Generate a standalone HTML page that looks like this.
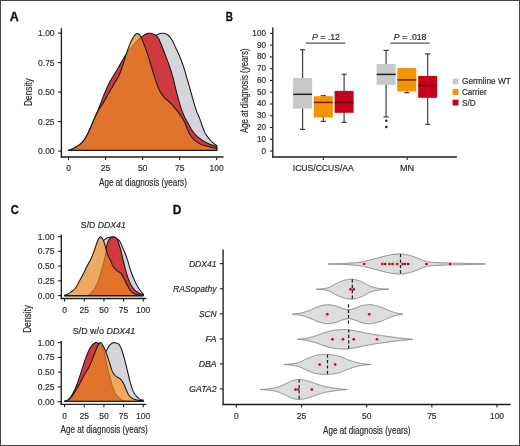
<!DOCTYPE html>
<html><head><meta charset="utf-8"><style>
html,body{margin:0;padding:0;background:#fff;}
#f{position:relative;width:520px;height:446px;box-sizing:border-box;border:1px solid #464646;overflow:hidden;background:#fff;}
svg{position:absolute;left:-1px;top:-1px;will-change:transform;}
text{font-family:"Liberation Sans",sans-serif;} text.n{stroke:#2e2e2e;stroke-width:0.2px;}
</style></head><body><div id="f">
<svg width="520" height="446" viewBox="0 0 520 446">
<text x="9.8" y="20.6" font-size="12" textLength="9.0" lengthAdjust="spacingAndGlyphs" font-weight="bold" fill="#111" stroke="#111" stroke-width="0.3">A</text>
<text x="225.7" y="20.6" font-size="12" textLength="7.2" lengthAdjust="spacingAndGlyphs" font-weight="bold" fill="#111" stroke="#111" stroke-width="0.3">B</text>
<text x="10.7" y="213.6" font-size="12" textLength="8.0" lengthAdjust="spacingAndGlyphs" font-weight="bold" fill="#111" stroke="#111" stroke-width="0.3">C</text>
<text x="172.8" y="213.6" font-size="12" textLength="8.6" lengthAdjust="spacingAndGlyphs" font-weight="bold" fill="#111" stroke="#111" stroke-width="0.3">D</text>
<path d="M68.5,150.4 L68.5,150.4 L69.24,150.33 L69.98,150.22 L70.72,150.09 L71.46,149.93 L72.2,149.76 L72.95,149.56 L73.69,149.35 L74.43,149.12 L75.17,148.89 L75.91,148.64 L76.65,148.38 L77.39,148.07 L78.13,147.73 L78.87,147.36 L79.61,146.96 L80.36,146.52 L81.1,146.06 L81.84,145.58 L82.58,145.07 L83.32,144.54 L84.06,143.98 L84.8,143.36 L85.54,142.71 L86.28,142 L87.03,141.26 L87.77,140.48 L88.51,139.66 L89.25,138.81 L89.99,137.93 L90.73,137.02 L91.47,136.08 L92.21,135.13 L92.95,134.15 L93.69,133.15 L94.44,132.14 L95.18,131.12 L95.92,130.09 L96.66,129.05 L97.4,128.01 L98.14,126.96 L98.88,125.89 L99.62,124.78 L100.36,123.62 L101.1,122.43 L101.84,121.2 L102.59,119.94 L103.33,118.66 L104.07,117.35 L104.81,116.02 L105.55,114.68 L106.29,113.32 L107.03,111.96 L107.77,110.59 L108.51,109.22 L109.25,107.85 L110,106.49 L110.74,105.14 L111.48,103.8 L112.22,102.48 L112.96,101.18 L113.7,99.88 L114.44,98.59 L115.18,97.28 L115.92,95.98 L116.66,94.67 L117.41,93.36 L118.15,92.05 L118.89,90.74 L119.63,89.44 L120.37,88.13 L121.11,86.83 L121.85,85.53 L122.59,84.23 L123.33,82.95 L124.08,81.67 L124.82,80.39 L125.56,79.13 L126.3,77.87 L127.04,76.63 L127.78,75.39 L128.52,74.17 L129.26,72.95 L130,71.73 L130.74,70.52 L131.49,69.31 L132.23,68.11 L132.97,66.91 L133.71,65.72 L134.45,64.54 L135.19,63.36 L135.93,62.19 L136.67,61.02 L137.41,59.87 L138.15,58.71 L138.89,57.57 L139.64,56.43 L140.38,55.3 L141.12,54.18 L141.86,53.06 L142.6,51.95 L143.34,50.84 L144.08,49.71 L144.82,48.59 L145.56,47.47 L146.31,46.36 L147.05,45.28 L147.79,44.24 L148.53,43.24 L149.27,42.29 L150.01,41.4 L150.75,40.54 L151.49,39.67 L152.23,38.81 L152.97,37.98 L153.72,37.2 L154.46,36.48 L155.2,35.86 L155.94,35.35 L156.68,34.96 L157.42,34.64 L158.16,34.34 L158.9,34.06 L159.64,33.81 L160.38,33.59 L161.12,33.41 L161.87,33.28 L162.61,33.21 L163.35,33.21 L164.09,33.31 L164.83,33.51 L165.57,33.8 L166.31,34.14 L167.05,34.52 L167.79,34.93 L168.53,35.49 L169.28,36.24 L170.02,37.13 L170.76,38.13 L171.5,39.19 L172.24,40.37 L172.98,41.79 L173.72,43.36 L174.46,45 L175.2,46.63 L175.94,48.19 L176.69,49.75 L177.43,51.32 L178.17,52.95 L178.91,54.64 L179.65,56.39 L180.39,58.18 L181.13,60.04 L181.87,61.97 L182.61,64 L183.36,66.15 L184.1,68.46 L184.84,70.9 L185.58,73.41 L186.32,75.98 L187.06,78.55 L187.8,81.1 L188.54,83.69 L189.28,86.33 L190.02,88.99 L190.76,91.63 L191.51,94.24 L192.25,96.81 L192.99,99.42 L193.73,102.06 L194.47,104.64 L195.21,107.13 L195.95,109.45 L196.69,111.53 L197.43,113.32 L198.18,114.95 L198.92,116.59 L199.66,118.45 L200.4,120.64 L201.14,122.86 L201.88,124.99 L202.62,127.07 L203.36,128.96 L204.1,130.74 L204.84,132.4 L205.59,133.85 L206.33,135.08 L207.07,136.17 L207.81,137.17 L208.55,138.09 L209.29,138.97 L210.03,139.82 L210.77,140.63 L211.51,141.39 L212.25,142.11 L213,142.77 L213.74,143.39 L214.48,143.97 L215.22,144.52 L215.96,145.02 L216.7,145.48 L216.7,150.4 Z" fill="#d5d5db"/>
<path d="M68.5,150.4 L68.5,150.4 L69.24,150.33 L69.98,150.22 L70.72,150.09 L71.46,149.93 L72.2,149.76 L72.95,149.56 L73.69,149.35 L74.43,149.12 L75.17,148.89 L75.91,148.64 L76.65,148.38 L77.39,148.07 L78.13,147.73 L78.87,147.36 L79.61,146.96 L80.36,146.52 L81.1,146.06 L81.84,145.58 L82.58,145.07 L83.32,144.54 L84.06,143.98 L84.8,143.36 L85.54,142.71 L86.28,142 L87.03,141.26 L87.77,140.48 L88.51,139.66 L89.25,138.81 L89.99,137.93 L90.73,137.02 L91.47,136.08 L92.21,135.13 L92.95,134.15 L93.69,133.15 L94.44,132.14 L95.18,131.12 L95.92,130.09 L96.66,129.05 L97.4,128.01 L98.14,126.96 L98.88,125.89 L99.62,124.78 L100.36,123.62 L101.1,122.43 L101.84,121.2 L102.59,119.94 L103.33,118.66 L104.07,117.35 L104.81,116.02 L105.55,114.68 L106.29,113.32 L107.03,111.96 L107.77,110.59 L108.51,109.22 L109.25,107.85 L110,106.49 L110.74,105.14 L111.48,103.8 L112.22,102.48 L112.96,101.18 L113.7,99.88 L114.44,98.59 L115.18,97.28 L115.92,95.98 L116.66,94.67 L117.41,93.36 L118.15,92.05 L118.89,90.74 L119.63,89.44 L120.37,88.13 L121.11,86.83 L121.85,85.53 L122.59,84.23 L123.33,82.95 L124.08,81.67 L124.82,80.39 L125.56,79.13 L126.3,77.87 L127.04,76.63 L127.78,75.39 L128.52,74.17 L129.26,72.95 L130,71.73 L130.74,70.52 L131.49,69.31 L132.23,68.11 L132.97,66.91 L133.71,65.72 L134.45,64.54 L135.19,63.36 L135.93,62.19 L136.67,61.02 L137.41,59.87 L138.15,58.71 L138.89,57.57 L139.64,56.43 L140.38,55.3 L141.12,54.18 L141.86,53.06 L142.6,51.95 L143.34,50.84 L144.08,49.71 L144.82,48.59 L145.56,47.47 L146.31,46.36 L147.05,45.28 L147.79,44.24 L148.53,43.24 L149.27,42.29 L150.01,41.4 L150.75,40.54 L151.49,39.67 L152.23,38.81 L152.97,37.98 L153.72,37.2 L154.46,36.48 L155.2,35.86 L155.94,35.35 L156.68,34.96 L157.42,34.64 L158.16,34.34 L158.9,34.06 L159.64,33.81 L160.38,33.59 L161.12,33.41 L161.87,33.28 L162.61,33.21 L163.35,33.21 L164.09,33.31 L164.83,33.51 L165.57,33.8 L166.31,34.14 L167.05,34.52 L167.79,34.93 L168.53,35.49 L169.28,36.24 L170.02,37.13 L170.76,38.13 L171.5,39.19 L172.24,40.37 L172.98,41.79 L173.72,43.36 L174.46,45 L175.2,46.63 L175.94,48.19 L176.69,49.75 L177.43,51.32 L178.17,52.95 L178.91,54.64 L179.65,56.39 L180.39,58.18 L181.13,60.04 L181.87,61.97 L182.61,64 L183.36,66.15 L184.1,68.46 L184.84,70.9 L185.58,73.41 L186.32,75.98 L187.06,78.55 L187.8,81.1 L188.54,83.69 L189.28,86.33 L190.02,88.99 L190.76,91.63 L191.51,94.24 L192.25,96.81 L192.99,99.42 L193.73,102.06 L194.47,104.64 L195.21,107.13 L195.95,109.45 L196.69,111.53 L197.43,113.32 L198.18,114.95 L198.92,116.59 L199.66,118.45 L200.4,120.64 L201.14,122.86 L201.88,124.99 L202.62,127.07 L203.36,128.96 L204.1,130.74 L204.84,132.4 L205.59,133.85 L206.33,135.08 L207.07,136.17 L207.81,137.17 L208.55,138.09 L209.29,138.97 L210.03,139.82 L210.77,140.63 L211.51,141.39 L212.25,142.11 L213,142.77 L213.74,143.39 L214.48,143.97 L215.22,144.52 L215.96,145.02 L216.7,145.48 L216.7,150.4 Z" fill="none" stroke="#1c1a1a" stroke-width="1.1" stroke-linejoin="round"/>
<path d="M68.5,150.4 L68.5,150.4 L69.24,150.15 L69.98,149.88 L70.72,149.58 L71.46,149.26 L72.2,148.92 L72.95,148.56 L73.69,148.19 L74.43,147.79 L75.17,147.39 L75.91,146.97 L76.65,146.54 L77.39,146.09 L78.13,145.61 L78.87,145.1 L79.61,144.56 L80.36,143.97 L81.1,143.33 L81.84,142.64 L82.58,141.85 L83.32,140.95 L84.06,139.95 L84.8,138.88 L85.54,137.74 L86.28,136.53 L87.03,135.18 L87.77,133.71 L88.51,132.16 L89.25,130.56 L89.99,128.95 L90.73,127.29 L91.47,125.54 L92.21,123.75 L92.95,121.97 L93.69,120.23 L94.44,118.57 L95.18,116.93 L95.92,115.3 L96.66,113.73 L97.4,112.22 L98.14,110.82 L98.88,109.54 L99.62,108.36 L100.36,107.25 L101.1,106.16 L101.84,105.05 L102.59,103.86 L103.33,102.62 L104.07,101.34 L104.81,100.05 L105.55,98.74 L106.29,97.43 L107.03,96.14 L107.77,94.85 L108.51,93.57 L109.25,92.29 L110,91.01 L110.74,89.73 L111.48,88.44 L112.22,87.15 L112.96,85.85 L113.7,84.56 L114.44,83.31 L115.18,82.08 L115.92,80.85 L116.66,79.59 L117.41,78.27 L118.15,76.89 L118.89,75.4 L119.63,73.79 L120.37,71.98 L121.11,70 L121.85,67.92 L122.59,65.78 L123.33,63.53 L124.08,61.15 L124.82,58.75 L125.56,56.41 L126.3,54.06 L127.04,51.8 L127.78,49.66 L128.52,47.6 L129.26,45.66 L130,43.84 L130.74,42.1 L131.49,40.5 L132.23,39.11 L132.97,37.85 L133.71,36.72 L134.45,35.78 L135.19,34.9 L135.93,34.09 L136.67,33.6 L137.41,33.6 L138.15,33.87 L138.89,34.28 L139.64,34.93 L140.38,36.01 L141.12,37.3 L141.86,38.84 L142.6,40.68 L143.34,42.58 L144.08,44.44 L144.82,46.37 L145.56,48.37 L146.31,50.49 L147.05,52.72 L147.79,55.02 L148.53,57.35 L149.27,59.69 L150.01,62.08 L150.75,64.49 L151.49,66.92 L152.23,69.32 L152.97,71.76 L153.72,74.2 L154.46,76.59 L155.2,78.91 L155.94,81.15 L156.68,83.32 L157.42,85.35 L158.16,87.29 L158.9,89.08 L159.64,90.63 L160.38,92.02 L161.12,93.29 L161.87,94.43 L162.61,95.45 L163.35,96.38 L164.09,97.24 L164.83,98.03 L165.57,98.77 L166.31,99.43 L167.05,100.03 L167.79,100.63 L168.53,101.25 L169.28,101.92 L170.02,102.63 L170.76,103.36 L171.5,104.13 L172.24,104.93 L172.98,105.79 L173.72,106.7 L174.46,107.64 L175.2,108.56 L175.94,109.46 L176.69,110.35 L177.43,111.24 L178.17,112.16 L178.91,113.12 L179.65,114.08 L180.39,115.07 L181.13,116.11 L181.87,117.23 L182.61,118.43 L183.36,119.71 L184.1,121.09 L184.84,122.58 L185.58,124.26 L186.32,126.22 L187.06,128.13 L187.8,129.9 L188.54,131.61 L189.28,133.17 L190.02,134.5 L190.76,135.69 L191.51,136.78 L192.25,137.77 L192.99,138.64 L193.73,139.41 L194.47,140.12 L195.21,140.76 L195.95,141.35 L196.69,141.89 L197.43,142.39 L198.18,142.86 L198.92,143.3 L199.66,143.71 L200.4,144.09 L201.14,144.42 L201.88,144.71 L202.62,144.96 L203.36,145.19 L204.1,145.4 L204.84,145.59 L205.59,145.78 L206.33,145.96 L207.07,146.14 L207.81,146.33 L208.55,146.52 L209.29,146.7 L210.03,146.88 L210.77,147.06 L211.51,147.23 L212.25,147.39 L213,147.56 L213.74,147.71 L214.48,147.86 L215.22,148.01 L215.96,148.15 L216.7,148.29 L216.7,150.4 Z" fill="#fff"/>
<path d="M68.5,150.4 L68.5,150.4 L69.24,150.15 L69.98,149.88 L70.72,149.58 L71.46,149.26 L72.2,148.92 L72.95,148.56 L73.69,148.19 L74.43,147.79 L75.17,147.39 L75.91,146.97 L76.65,146.54 L77.39,146.09 L78.13,145.61 L78.87,145.1 L79.61,144.56 L80.36,143.97 L81.1,143.33 L81.84,142.64 L82.58,141.85 L83.32,140.95 L84.06,139.95 L84.8,138.88 L85.54,137.74 L86.28,136.53 L87.03,135.18 L87.77,133.71 L88.51,132.16 L89.25,130.56 L89.99,128.95 L90.73,127.31 L91.47,125.59 L92.21,123.83 L92.95,122.05 L93.69,120.27 L94.44,118.53 L95.18,116.81 L95.92,115.09 L96.66,113.37 L97.4,111.63 L98.14,109.86 L98.88,108.04 L99.62,106.19 L100.36,104.31 L101.1,102.4 L101.84,100.41 L102.59,98.39 L103.33,96.4 L104.07,94.51 L104.81,92.72 L105.55,90.97 L106.29,89.26 L107.03,87.61 L107.77,86.01 L108.51,84.47 L109.25,83.01 L110,81.62 L110.74,80.3 L111.48,79.03 L112.22,77.8 L112.96,76.6 L113.7,75.41 L114.44,74.21 L115.18,73 L115.92,71.76 L116.66,70.49 L117.41,69.23 L118.15,67.95 L118.89,66.68 L119.63,65.4 L120.37,64.12 L121.11,62.83 L121.85,61.5 L122.59,60.14 L123.33,58.79 L124.08,57.49 L124.82,56.28 L125.56,55.17 L126.3,54.12 L127.04,53.11 L127.78,52.14 L128.52,51.2 L129.26,50.28 L130,49.36 L130.74,48.44 L131.49,47.51 L132.23,46.58 L132.97,45.66 L133.71,44.75 L134.45,43.86 L135.19,43 L135.93,42.18 L136.67,41.4 L137.41,40.65 L138.15,39.9 L138.89,39.17 L139.64,38.46 L140.38,37.8 L141.12,37.18 L141.86,36.62 L142.6,36.13 L143.34,35.67 L144.08,35.2 L144.82,34.74 L145.56,34.3 L146.31,33.92 L147.05,33.59 L147.79,33.36 L148.53,33.22 L149.27,33.21 L150.01,33.27 L150.75,33.39 L151.49,33.57 L152.23,33.79 L152.97,34.06 L153.72,34.36 L154.46,34.68 L155.2,35.03 L155.94,35.52 L156.68,36.18 L157.42,36.99 L158.16,37.92 L158.9,39.08 L159.64,40.62 L160.38,42.35 L161.12,44.09 L161.87,45.95 L162.61,47.9 L163.35,49.84 L164.09,51.77 L164.83,53.7 L165.57,55.66 L166.31,57.64 L167.05,59.64 L167.79,61.67 L168.53,63.75 L169.28,65.86 L170.02,68.01 L170.76,70.24 L171.5,72.5 L172.24,74.87 L172.98,77.46 L173.72,80.44 L174.46,83.57 L175.2,86.67 L175.94,89.81 L176.69,92.86 L177.43,95.73 L178.17,98.48 L178.91,101.13 L179.65,103.69 L180.39,106.16 L181.13,108.44 L181.87,110.5 L182.61,112.4 L183.36,114.18 L184.1,115.87 L184.84,117.46 L185.58,118.94 L186.32,120.28 L187.06,121.48 L187.8,122.67 L188.54,123.95 L189.28,125.4 L190.02,126.92 L190.76,128.33 L191.51,129.54 L192.25,130.65 L192.99,131.68 L193.73,132.63 L194.47,133.52 L195.21,134.36 L195.95,135.15 L196.69,135.9 L197.43,136.6 L198.18,137.26 L198.92,137.88 L199.66,138.47 L200.4,139.03 L201.14,139.56 L201.88,140.07 L202.62,140.55 L203.36,140.99 L204.1,141.42 L204.84,141.83 L205.59,142.21 L206.33,142.58 L207.07,142.94 L207.81,143.28 L208.55,143.6 L209.29,143.92 L210.03,144.22 L210.77,144.52 L211.51,144.8 L212.25,145.07 L213,145.32 L213.74,145.55 L214.48,145.76 L215.22,145.96 L215.96,146.14 L216.7,146.3 L216.7,150.4 Z" fill="#cf3a40"/>
<path d="M68.5,150.4 L68.5,150.4 L69.24,150.15 L69.98,149.88 L70.72,149.58 L71.46,149.26 L72.2,148.92 L72.95,148.56 L73.69,148.19 L74.43,147.79 L75.17,147.39 L75.91,146.97 L76.65,146.54 L77.39,146.09 L78.13,145.61 L78.87,145.1 L79.61,144.56 L80.36,143.97 L81.1,143.33 L81.84,142.64 L82.58,141.85 L83.32,140.95 L84.06,139.95 L84.8,138.88 L85.54,137.74 L86.28,136.53 L87.03,135.18 L87.77,133.71 L88.51,132.16 L89.25,130.56 L89.99,128.95 L90.73,127.31 L91.47,125.59 L92.21,123.83 L92.95,122.05 L93.69,120.27 L94.44,118.53 L95.18,116.81 L95.92,115.09 L96.66,113.37 L97.4,111.63 L98.14,109.86 L98.88,108.04 L99.62,106.19 L100.36,104.31 L101.1,102.4 L101.84,100.41 L102.59,98.39 L103.33,96.4 L104.07,94.51 L104.81,92.72 L105.55,90.97 L106.29,89.26 L107.03,87.61 L107.77,86.01 L108.51,84.47 L109.25,83.01 L110,81.62 L110.74,80.3 L111.48,79.03 L112.22,77.8 L112.96,76.6 L113.7,75.41 L114.44,74.21 L115.18,73 L115.92,71.76 L116.66,70.49 L117.41,69.23 L118.15,67.95 L118.89,66.68 L119.63,65.4 L120.37,64.12 L121.11,62.83 L121.85,61.5 L122.59,60.14 L123.33,58.79 L124.08,57.49 L124.82,56.28 L125.56,55.17 L126.3,54.12 L127.04,53.11 L127.78,52.14 L128.52,51.2 L129.26,50.28 L130,49.36 L130.74,48.44 L131.49,47.51 L132.23,46.58 L132.97,45.66 L133.71,44.75 L134.45,43.86 L135.19,43 L135.93,42.18 L136.67,41.4 L137.41,40.65 L138.15,39.9 L138.89,39.17 L139.64,38.46 L140.38,37.8 L141.12,37.18 L141.86,36.62 L142.6,36.13 L143.34,35.67 L144.08,35.2 L144.82,34.74 L145.56,34.3 L146.31,33.92 L147.05,33.59 L147.79,33.36 L148.53,33.22 L149.27,33.21 L150.01,33.27 L150.75,33.39 L151.49,33.57 L152.23,33.79 L152.97,34.06 L153.72,34.36 L154.46,34.68 L155.2,35.03 L155.94,35.52 L156.68,36.18 L157.42,36.99 L158.16,37.92 L158.9,39.08 L159.64,40.62 L160.38,42.35 L161.12,44.09 L161.87,45.95 L162.61,47.9 L163.35,49.84 L164.09,51.77 L164.83,53.7 L165.57,55.66 L166.31,57.64 L167.05,59.64 L167.79,61.67 L168.53,63.75 L169.28,65.86 L170.02,68.01 L170.76,70.24 L171.5,72.5 L172.24,74.87 L172.98,77.46 L173.72,80.44 L174.46,83.57 L175.2,86.67 L175.94,89.81 L176.69,92.86 L177.43,95.73 L178.17,98.48 L178.91,101.13 L179.65,103.69 L180.39,106.16 L181.13,108.44 L181.87,110.5 L182.61,112.4 L183.36,114.18 L184.1,115.87 L184.84,117.46 L185.58,118.94 L186.32,120.28 L187.06,121.48 L187.8,122.67 L188.54,123.95 L189.28,125.4 L190.02,126.92 L190.76,128.33 L191.51,129.54 L192.25,130.65 L192.99,131.68 L193.73,132.63 L194.47,133.52 L195.21,134.36 L195.95,135.15 L196.69,135.9 L197.43,136.6 L198.18,137.26 L198.92,137.88 L199.66,138.47 L200.4,139.03 L201.14,139.56 L201.88,140.07 L202.62,140.55 L203.36,140.99 L204.1,141.42 L204.84,141.83 L205.59,142.21 L206.33,142.58 L207.07,142.94 L207.81,143.28 L208.55,143.6 L209.29,143.92 L210.03,144.22 L210.77,144.52 L211.51,144.8 L212.25,145.07 L213,145.32 L213.74,145.55 L214.48,145.76 L215.22,145.96 L215.96,146.14 L216.7,146.3 L216.7,150.4 Z" fill="none" stroke="#1c1a1a" stroke-width="1.1" stroke-linejoin="round"/>
<path d="M68.5,150.4 L68.5,150.4 L69.24,150.15 L69.98,149.88 L70.72,149.58 L71.46,149.26 L72.2,148.92 L72.95,148.56 L73.69,148.19 L74.43,147.79 L75.17,147.39 L75.91,146.97 L76.65,146.54 L77.39,146.09 L78.13,145.61 L78.87,145.1 L79.61,144.56 L80.36,143.97 L81.1,143.33 L81.84,142.64 L82.58,141.85 L83.32,140.95 L84.06,139.95 L84.8,138.88 L85.54,137.74 L86.28,136.53 L87.03,135.18 L87.77,133.71 L88.51,132.16 L89.25,130.56 L89.99,128.95 L90.73,127.29 L91.47,125.54 L92.21,123.75 L92.95,121.97 L93.69,120.23 L94.44,118.57 L95.18,116.93 L95.92,115.3 L96.66,113.73 L97.4,112.22 L98.14,110.82 L98.88,109.54 L99.62,108.36 L100.36,107.25 L101.1,106.16 L101.84,105.05 L102.59,103.86 L103.33,102.62 L104.07,101.34 L104.81,100.05 L105.55,98.74 L106.29,97.43 L107.03,96.14 L107.77,94.85 L108.51,93.57 L109.25,92.29 L110,91.01 L110.74,89.73 L111.48,88.44 L112.22,87.15 L112.96,85.85 L113.7,84.56 L114.44,83.31 L115.18,82.08 L115.92,80.85 L116.66,79.59 L117.41,78.27 L118.15,76.89 L118.89,75.4 L119.63,73.79 L120.37,71.98 L121.11,70 L121.85,67.92 L122.59,65.78 L123.33,63.53 L124.08,61.15 L124.82,58.75 L125.56,56.41 L126.3,54.06 L127.04,51.8 L127.78,49.66 L128.52,47.6 L129.26,45.66 L130,43.84 L130.74,42.1 L131.49,40.5 L132.23,39.11 L132.97,37.85 L133.71,36.72 L134.45,35.78 L135.19,34.9 L135.93,34.09 L136.67,33.6 L137.41,33.6 L138.15,33.87 L138.89,34.28 L139.64,34.93 L140.38,36.01 L141.12,37.3 L141.86,38.84 L142.6,40.68 L143.34,42.58 L144.08,44.44 L144.82,46.37 L145.56,48.37 L146.31,50.49 L147.05,52.72 L147.79,55.02 L148.53,57.35 L149.27,59.69 L150.01,62.08 L150.75,64.49 L151.49,66.92 L152.23,69.32 L152.97,71.76 L153.72,74.2 L154.46,76.59 L155.2,78.91 L155.94,81.15 L156.68,83.32 L157.42,85.35 L158.16,87.29 L158.9,89.08 L159.64,90.63 L160.38,92.02 L161.12,93.29 L161.87,94.43 L162.61,95.45 L163.35,96.38 L164.09,97.24 L164.83,98.03 L165.57,98.77 L166.31,99.43 L167.05,100.03 L167.79,100.63 L168.53,101.25 L169.28,101.92 L170.02,102.63 L170.76,103.36 L171.5,104.13 L172.24,104.93 L172.98,105.79 L173.72,106.7 L174.46,107.64 L175.2,108.56 L175.94,109.46 L176.69,110.35 L177.43,111.24 L178.17,112.16 L178.91,113.12 L179.65,114.08 L180.39,115.07 L181.13,116.11 L181.87,117.23 L182.61,118.43 L183.36,119.71 L184.1,121.09 L184.84,122.58 L185.58,124.26 L186.32,126.22 L187.06,128.13 L187.8,129.9 L188.54,131.61 L189.28,133.17 L190.02,134.5 L190.76,135.69 L191.51,136.78 L192.25,137.77 L192.99,138.64 L193.73,139.41 L194.47,140.12 L195.21,140.76 L195.95,141.35 L196.69,141.89 L197.43,142.39 L198.18,142.86 L198.92,143.3 L199.66,143.71 L200.4,144.09 L201.14,144.42 L201.88,144.71 L202.62,144.96 L203.36,145.19 L204.1,145.4 L204.84,145.59 L205.59,145.78 L206.33,145.96 L207.07,146.14 L207.81,146.33 L208.55,146.52 L209.29,146.7 L210.03,146.88 L210.77,147.06 L211.51,147.23 L212.25,147.39 L213,147.56 L213.74,147.71 L214.48,147.86 L215.22,148.01 L215.96,148.15 L216.7,148.29 L216.7,150.4 Z" fill="rgba(231,137,37,0.72)"/>
<path d="M68.5,150.4 L68.5,150.4 L69.24,150.15 L69.98,149.88 L70.72,149.58 L71.46,149.26 L72.2,148.92 L72.95,148.56 L73.69,148.19 L74.43,147.79 L75.17,147.39 L75.91,146.97 L76.65,146.54 L77.39,146.09 L78.13,145.61 L78.87,145.1 L79.61,144.56 L80.36,143.97 L81.1,143.33 L81.84,142.64 L82.58,141.85 L83.32,140.95 L84.06,139.95 L84.8,138.88 L85.54,137.74 L86.28,136.53 L87.03,135.18 L87.77,133.71 L88.51,132.16 L89.25,130.56 L89.99,128.95 L90.73,127.29 L91.47,125.54 L92.21,123.75 L92.95,121.97 L93.69,120.23 L94.44,118.57 L95.18,116.93 L95.92,115.3 L96.66,113.73 L97.4,112.22 L98.14,110.82 L98.88,109.54 L99.62,108.36 L100.36,107.25 L101.1,106.16 L101.84,105.05 L102.59,103.86 L103.33,102.62 L104.07,101.34 L104.81,100.05 L105.55,98.74 L106.29,97.43 L107.03,96.14 L107.77,94.85 L108.51,93.57 L109.25,92.29 L110,91.01 L110.74,89.73 L111.48,88.44 L112.22,87.15 L112.96,85.85 L113.7,84.56 L114.44,83.31 L115.18,82.08 L115.92,80.85 L116.66,79.59 L117.41,78.27 L118.15,76.89 L118.89,75.4 L119.63,73.79 L120.37,71.98 L121.11,70 L121.85,67.92 L122.59,65.78 L123.33,63.53 L124.08,61.15 L124.82,58.75 L125.56,56.41 L126.3,54.06 L127.04,51.8 L127.78,49.66 L128.52,47.6 L129.26,45.66 L130,43.84 L130.74,42.1 L131.49,40.5 L132.23,39.11 L132.97,37.85 L133.71,36.72 L134.45,35.78 L135.19,34.9 L135.93,34.09 L136.67,33.6 L137.41,33.6 L138.15,33.87 L138.89,34.28 L139.64,34.93 L140.38,36.01 L141.12,37.3 L141.86,38.84 L142.6,40.68 L143.34,42.58 L144.08,44.44 L144.82,46.37 L145.56,48.37 L146.31,50.49 L147.05,52.72 L147.79,55.02 L148.53,57.35 L149.27,59.69 L150.01,62.08 L150.75,64.49 L151.49,66.92 L152.23,69.32 L152.97,71.76 L153.72,74.2 L154.46,76.59 L155.2,78.91 L155.94,81.15 L156.68,83.32 L157.42,85.35 L158.16,87.29 L158.9,89.08 L159.64,90.63 L160.38,92.02 L161.12,93.29 L161.87,94.43 L162.61,95.45 L163.35,96.38 L164.09,97.24 L164.83,98.03 L165.57,98.77 L166.31,99.43 L167.05,100.03 L167.79,100.63 L168.53,101.25 L169.28,101.92 L170.02,102.63 L170.76,103.36 L171.5,104.13 L172.24,104.93 L172.98,105.79 L173.72,106.7 L174.46,107.64 L175.2,108.56 L175.94,109.46 L176.69,110.35 L177.43,111.24 L178.17,112.16 L178.91,113.12 L179.65,114.08 L180.39,115.07 L181.13,116.11 L181.87,117.23 L182.61,118.43 L183.36,119.71 L184.1,121.09 L184.84,122.58 L185.58,124.26 L186.32,126.22 L187.06,128.13 L187.8,129.9 L188.54,131.61 L189.28,133.17 L190.02,134.5 L190.76,135.69 L191.51,136.78 L192.25,137.77 L192.99,138.64 L193.73,139.41 L194.47,140.12 L195.21,140.76 L195.95,141.35 L196.69,141.89 L197.43,142.39 L198.18,142.86 L198.92,143.3 L199.66,143.71 L200.4,144.09 L201.14,144.42 L201.88,144.71 L202.62,144.96 L203.36,145.19 L204.1,145.4 L204.84,145.59 L205.59,145.78 L206.33,145.96 L207.07,146.14 L207.81,146.33 L208.55,146.52 L209.29,146.7 L210.03,146.88 L210.77,147.06 L211.51,147.23 L212.25,147.39 L213,147.56 L213.74,147.71 L214.48,147.86 L215.22,148.01 L215.96,148.15 L216.7,148.29 L216.7,150.4 Z" fill="none" stroke="#1c1a1a" stroke-width="1.1" stroke-linejoin="round"/>
<line x1="61.4" y1="28.2" x2="61.4" y2="157.6" stroke="#1e1e1e" stroke-width="1.35"/>
<line x1="60.75" y1="157" x2="223.6" y2="157" stroke="#1e1e1e" stroke-width="1.35"/>
<line x1="58" y1="33.1" x2="61.3" y2="33.1" stroke="#1e1e1e" stroke-width="1.1"/>
<text class="n" transform="translate(54.6,36) scale(0.895,1)" font-size="9.5" text-anchor="end" fill="#2e2e2e">1.00</text>
<line x1="58" y1="62.6" x2="61.3" y2="62.6" stroke="#1e1e1e" stroke-width="1.1"/>
<text class="n" transform="translate(54.6,65.5) scale(0.895,1)" font-size="9.5" text-anchor="end" fill="#2e2e2e">0.75</text>
<line x1="58" y1="92.1" x2="61.3" y2="92.1" stroke="#1e1e1e" stroke-width="1.1"/>
<text class="n" transform="translate(54.6,95) scale(0.895,1)" font-size="9.5" text-anchor="end" fill="#2e2e2e">0.50</text>
<line x1="58" y1="121.6" x2="61.3" y2="121.6" stroke="#1e1e1e" stroke-width="1.1"/>
<text class="n" transform="translate(54.6,124.5) scale(0.895,1)" font-size="9.5" text-anchor="end" fill="#2e2e2e">0.25</text>
<line x1="58" y1="151.1" x2="61.3" y2="151.1" stroke="#1e1e1e" stroke-width="1.1"/>
<text class="n" transform="translate(54.6,154) scale(0.895,1)" font-size="9.5" text-anchor="end" fill="#2e2e2e">0.00</text>
<line x1="68.5" y1="157" x2="68.5" y2="159.9" stroke="#1e1e1e" stroke-width="1.1"/>
<text class="n" transform="translate(68.5,170.7) scale(0.895,1)" font-size="9.5" text-anchor="middle" fill="#2e2e2e">0</text>
<line x1="105.55" y1="157" x2="105.55" y2="159.9" stroke="#1e1e1e" stroke-width="1.1"/>
<text class="n" transform="translate(105.55,170.7) scale(0.895,1)" font-size="9.5" text-anchor="middle" fill="#2e2e2e">25</text>
<line x1="142.6" y1="157" x2="142.6" y2="159.9" stroke="#1e1e1e" stroke-width="1.1"/>
<text class="n" transform="translate(142.6,170.7) scale(0.895,1)" font-size="9.5" text-anchor="middle" fill="#2e2e2e">50</text>
<line x1="179.65" y1="157" x2="179.65" y2="159.9" stroke="#1e1e1e" stroke-width="1.1"/>
<text class="n" transform="translate(179.65,170.7) scale(0.895,1)" font-size="9.5" text-anchor="middle" fill="#2e2e2e">75</text>
<line x1="216.7" y1="157" x2="216.7" y2="159.9" stroke="#1e1e1e" stroke-width="1.1"/>
<text class="n" transform="translate(216.7,170.7) scale(0.895,1)" font-size="9.5" text-anchor="middle" fill="#2e2e2e">100</text>
<text class="n" x="143" y="185.7" font-size="10" text-anchor="middle" textLength="87.8" lengthAdjust="spacingAndGlyphs" fill="#2e2e2e">Age at diagnosis (years)</text>
<g transform="translate(31.7,92.1) rotate(-90)"><text class="n" x="0" y="0" font-size="10" text-anchor="middle" textLength="27.6" lengthAdjust="spacingAndGlyphs" fill="#2e2e2e">Density</text></g>
<line x1="272.8" y1="27.5" x2="272.8" y2="157.6" stroke="#1e1e1e" stroke-width="1.35"/>
<line x1="272.15" y1="157" x2="456.9" y2="157" stroke="#1e1e1e" stroke-width="1.35"/>
<line x1="270" y1="151.05" x2="273" y2="151.05" stroke="#1e1e1e" stroke-width="1.1"/>
<text class="n" transform="translate(266,153.55) scale(0.9,1)" font-size="9.1" text-anchor="end" fill="#2e2e2e">0</text>
<line x1="270" y1="139.29" x2="273" y2="139.29" stroke="#1e1e1e" stroke-width="1.1"/>
<text class="n" transform="translate(266,141.79) scale(0.9,1)" font-size="9.1" text-anchor="end" fill="#2e2e2e">10</text>
<line x1="270" y1="127.52" x2="273" y2="127.52" stroke="#1e1e1e" stroke-width="1.1"/>
<text class="n" transform="translate(266,130.02) scale(0.9,1)" font-size="9.1" text-anchor="end" fill="#2e2e2e">20</text>
<line x1="270" y1="115.76" x2="273" y2="115.76" stroke="#1e1e1e" stroke-width="1.1"/>
<text class="n" transform="translate(266,118.26) scale(0.9,1)" font-size="9.1" text-anchor="end" fill="#2e2e2e">30</text>
<line x1="270" y1="103.99" x2="273" y2="103.99" stroke="#1e1e1e" stroke-width="1.1"/>
<text class="n" transform="translate(266,106.49) scale(0.9,1)" font-size="9.1" text-anchor="end" fill="#2e2e2e">40</text>
<line x1="270" y1="92.23" x2="273" y2="92.23" stroke="#1e1e1e" stroke-width="1.1"/>
<text class="n" transform="translate(266,94.73) scale(0.9,1)" font-size="9.1" text-anchor="end" fill="#2e2e2e">50</text>
<line x1="270" y1="80.46" x2="273" y2="80.46" stroke="#1e1e1e" stroke-width="1.1"/>
<text class="n" transform="translate(266,82.96) scale(0.9,1)" font-size="9.1" text-anchor="end" fill="#2e2e2e">60</text>
<line x1="270" y1="68.7" x2="273" y2="68.7" stroke="#1e1e1e" stroke-width="1.1"/>
<text class="n" transform="translate(266,71.2) scale(0.9,1)" font-size="9.1" text-anchor="end" fill="#2e2e2e">70</text>
<line x1="270" y1="56.93" x2="273" y2="56.93" stroke="#1e1e1e" stroke-width="1.1"/>
<text class="n" transform="translate(266,59.43) scale(0.9,1)" font-size="9.1" text-anchor="end" fill="#2e2e2e">80</text>
<line x1="270" y1="45.17" x2="273" y2="45.17" stroke="#1e1e1e" stroke-width="1.1"/>
<text class="n" transform="translate(266,47.67) scale(0.9,1)" font-size="9.1" text-anchor="end" fill="#2e2e2e">90</text>
<line x1="270" y1="33.4" x2="273" y2="33.4" stroke="#1e1e1e" stroke-width="1.1"/>
<text class="n" transform="translate(266,35.9) scale(0.9,1)" font-size="9.1" text-anchor="end" fill="#2e2e2e">100</text>
<line x1="323.3" y1="157" x2="323.3" y2="159.9" stroke="#1e1e1e" stroke-width="1.1"/>
<line x1="407.2" y1="157" x2="407.2" y2="159.9" stroke="#1e1e1e" stroke-width="1.1"/>
<text class="n" x="323.3" y="171.2" font-size="9" text-anchor="middle" textLength="61" lengthAdjust="spacingAndGlyphs" fill="#2e2e2e">ICUS/CCUS/AA</text>
<text class="n" x="407.1" y="171" font-size="9" text-anchor="middle" textLength="14.2" lengthAdjust="spacingAndGlyphs" fill="#2e2e2e">MN</text>
<g transform="translate(247.9,90.75) rotate(-90)"><text class="n" x="0" y="0" font-size="10" text-anchor="middle" textLength="84.5" lengthAdjust="spacingAndGlyphs" fill="#2e2e2e">Age at diagnosis (years)</text></g>
<line x1="302.6" y1="49.7" x2="302.6" y2="129.4" stroke="#383838" stroke-width="1.15"/>
<line x1="300" y1="49.7" x2="305.2" y2="49.7" stroke="#383838" stroke-width="1.15"/>
<line x1="300" y1="129.4" x2="305.2" y2="129.4" stroke="#383838" stroke-width="1.15"/>
<rect x="293.1" y="78" width="19" height="30.5" fill="#c8c7cc"/>
<line x1="293.1" y1="94.3" x2="312.1" y2="94.3" stroke="#222" stroke-width="1.5"/>
<line x1="323.3" y1="95.7" x2="323.3" y2="121.4" stroke="#383838" stroke-width="1.15"/>
<line x1="320.7" y1="95.7" x2="325.9" y2="95.7" stroke="#383838" stroke-width="1.15"/>
<line x1="320.7" y1="121.4" x2="325.9" y2="121.4" stroke="#383838" stroke-width="1.15"/>
<rect x="313.8" y="96.2" width="19" height="21.3" fill="#f49300"/>
<line x1="313.8" y1="102.4" x2="332.8" y2="102.4" stroke="#6b1e06" stroke-width="1.5"/>
<line x1="344.1" y1="74.2" x2="344.1" y2="122.3" stroke="#383838" stroke-width="1.15"/>
<line x1="341.5" y1="74.2" x2="346.7" y2="74.2" stroke="#383838" stroke-width="1.15"/>
<line x1="341.5" y1="122.3" x2="346.7" y2="122.3" stroke="#383838" stroke-width="1.15"/>
<rect x="334.6" y="90.9" width="19" height="21.9" fill="#c5021f"/>
<line x1="334.6" y1="102.4" x2="353.6" y2="102.4" stroke="#5a0a0e" stroke-width="1.5"/>
<line x1="386.1" y1="50.4" x2="386.1" y2="116.9" stroke="#383838" stroke-width="1.15"/>
<line x1="383.5" y1="50.4" x2="388.7" y2="50.4" stroke="#383838" stroke-width="1.15"/>
<line x1="383.5" y1="116.9" x2="388.7" y2="116.9" stroke="#383838" stroke-width="1.15"/>
<rect x="376.6" y="64" width="19" height="20.8" fill="#c8c7cc"/>
<line x1="376.6" y1="74.4" x2="395.6" y2="74.4" stroke="#222" stroke-width="1.5"/>
<line x1="406.8" y1="69" x2="406.8" y2="92.7" stroke="#383838" stroke-width="1.15"/>
<line x1="404.2" y1="69" x2="409.4" y2="69" stroke="#383838" stroke-width="1.15"/>
<line x1="404.2" y1="92.7" x2="409.4" y2="92.7" stroke="#383838" stroke-width="1.15"/>
<rect x="397.3" y="68.1" width="19" height="23.4" fill="#f49300"/>
<line x1="397.3" y1="79.9" x2="416.3" y2="79.9" stroke="#6b1e06" stroke-width="1.5"/>
<line x1="427.7" y1="53.9" x2="427.7" y2="124.3" stroke="#383838" stroke-width="1.15"/>
<line x1="425.1" y1="53.9" x2="430.3" y2="53.9" stroke="#383838" stroke-width="1.15"/>
<line x1="425.1" y1="124.3" x2="430.3" y2="124.3" stroke="#383838" stroke-width="1.15"/>
<rect x="418.2" y="75.9" width="19" height="21.9" fill="#c5021f"/>
<line x1="418.2" y1="85.5" x2="437.2" y2="85.5" stroke="#5a0a0e" stroke-width="1.5"/>
<circle cx="386.3" cy="120.8" r="1.25" fill="#1a1a1a"/>
<circle cx="386.3" cy="127.1" r="1.25" fill="#1a1a1a"/>
<line x1="305.9" y1="43.1" x2="345.4" y2="43.1" stroke="#555" stroke-width="1.2"/>
<line x1="390.3" y1="43.1" x2="429.7" y2="43.1" stroke="#555" stroke-width="1.2"/>
<text class="n" x="326" y="39.8" font-size="8.4" text-anchor="middle" fill="#2e2e2e" textLength="27.9" lengthAdjust="spacingAndGlyphs"><tspan font-style="italic">P</tspan> = .12</text>
<text class="n" x="410.1" y="40" font-size="8.4" text-anchor="middle" fill="#2e2e2e" textLength="32.7" lengthAdjust="spacingAndGlyphs"><tspan font-style="italic">P</tspan> = .018</text>
<rect x="452.6" y="78.5" width="5.9" height="5.8" fill="#c8c7cc"/>
<text class="n" x="462" y="84.4" font-size="8.6" textLength="48.8" lengthAdjust="spacingAndGlyphs" fill="#2e2e2e">Germline WT</text>
<rect x="452.6" y="89.1" width="5.9" height="5.8" fill="#f49300"/>
<text class="n" x="462" y="95" font-size="8.6" textLength="24.6" lengthAdjust="spacingAndGlyphs" fill="#2e2e2e">Carrier</text>
<rect x="452.6" y="99.7" width="5.9" height="5.8" fill="#c5021f"/>
<text class="n" x="462" y="105.6" font-size="8.6" textLength="13.7" lengthAdjust="spacingAndGlyphs" fill="#2e2e2e">S/D</text>
<text class="n" x="103.3" y="228.4" font-size="8.6" text-anchor="middle" textLength="44.9" lengthAdjust="spacingAndGlyphs" fill="#2e2e2e">S/D <tspan font-style="italic">DDX41</tspan></text>
<path d="M64.6,295.6 L64.6,295.31 L64.99,295.29 L65.39,295.26 L65.78,295.2 L66.17,295.12 L66.56,295.02 L66.96,294.91 L67.35,294.78 L67.74,294.63 L68.14,294.47 L68.53,294.29 L68.92,294.11 L69.32,293.91 L69.71,293.7 L70.1,293.48 L70.49,293.26 L70.89,293.03 L71.28,292.8 L71.67,292.56 L72.07,292.32 L72.46,292.08 L72.85,291.82 L73.25,291.52 L73.64,291.19 L74.03,290.83 L74.42,290.44 L74.82,290.02 L75.21,289.57 L75.6,289.1 L76,288.6 L76.39,288.08 L76.78,287.54 L77.18,286.98 L77.57,286.41 L77.96,285.81 L78.35,285.2 L78.75,284.58 L79.14,283.95 L79.53,283.31 L79.93,282.66 L80.32,282 L80.71,281.34 L81.11,280.67 L81.5,280 L81.89,279.34 L82.28,278.67 L82.68,278.01 L83.07,277.35 L83.46,276.7 L83.86,276.05 L84.25,275.4 L84.64,274.73 L85.04,274.05 L85.43,273.34 L85.82,272.62 L86.22,271.89 L86.61,271.15 L87,270.4 L87.39,269.63 L87.79,268.87 L88.18,268.09 L88.57,267.31 L88.97,266.53 L89.36,265.75 L89.75,264.97 L90.14,264.19 L90.54,263.41 L90.93,262.64 L91.32,261.88 L91.72,261.13 L92.11,260.38 L92.5,259.63 L92.9,258.88 L93.29,258.11 L93.68,257.34 L94.07,256.57 L94.47,255.79 L94.86,255.02 L95.25,254.24 L95.65,253.47 L96.04,252.7 L96.43,251.94 L96.83,251.18 L97.22,250.44 L97.61,249.71 L98,249 L98.4,248.3 L98.79,247.62 L99.18,246.96 L99.58,246.32 L99.97,245.71 L100.36,245.1 L100.76,244.49 L101.15,243.88 L101.54,243.28 L101.94,242.7 L102.33,242.13 L102.72,241.6 L103.11,241.11 L103.51,240.65 L103.9,240.25 L104.29,239.9 L104.69,239.59 L105.08,239.3 L105.47,239.01 L105.86,238.74 L106.26,238.49 L106.65,238.26 L107.04,238.05 L107.44,237.86 L107.83,237.71 L108.22,237.58 L108.62,237.49 L109.01,237.41 L109.4,237.34 L109.79,237.27 L110.19,237.21 L110.58,237.15 L110.97,237.09 L111.37,237.05 L111.76,237 L112.15,236.97 L112.55,236.94 L112.94,236.92 L113.33,236.9 L113.72,236.9 L114.12,236.95 L114.51,237.09 L114.9,237.3 L115.3,237.55 L115.69,237.82 L116.08,238.1 L116.48,238.37 L116.87,238.61 L117.26,238.86 L117.66,239.12 L118.05,239.4 L118.44,239.72 L118.83,240.07 L119.23,240.48 L119.62,241.01 L120.01,241.69 L120.41,242.48 L120.8,243.35 L121.19,244.27 L121.58,245.18 L121.98,246.05 L122.37,246.93 L122.76,247.84 L123.16,248.76 L123.55,249.71 L123.94,250.67 L124.34,251.64 L124.73,252.61 L125.12,253.58 L125.51,254.56 L125.91,255.54 L126.3,256.56 L126.69,257.61 L127.09,258.7 L127.48,259.86 L127.87,261.12 L128.27,262.43 L128.66,263.78 L129.05,265.17 L129.44,266.57 L129.84,267.92 L130.23,269.19 L130.62,270.37 L131.02,271.51 L131.41,272.62 L131.8,273.69 L132.2,274.72 L132.59,275.73 L132.98,276.72 L133.38,277.68 L133.77,278.64 L134.16,279.57 L134.55,280.47 L134.95,281.35 L135.34,282.2 L135.73,283.02 L136.13,283.8 L136.52,284.55 L136.91,285.28 L137.31,285.99 L137.7,286.68 L138.09,287.34 L138.48,287.97 L138.88,288.58 L139.27,289.16 L139.66,289.7 L140.06,290.24 L140.45,290.76 L140.84,291.26 L141.24,291.74 L141.63,292.21 L142.02,292.65 L142.41,293.07 L142.81,293.47 L143.2,293.84 L143.2,295.6 Z" fill="#d5d5db"/>
<path d="M64.6,295.6 L64.6,295.31 L64.99,295.29 L65.39,295.26 L65.78,295.2 L66.17,295.12 L66.56,295.02 L66.96,294.91 L67.35,294.78 L67.74,294.63 L68.14,294.47 L68.53,294.29 L68.92,294.11 L69.32,293.91 L69.71,293.7 L70.1,293.48 L70.49,293.26 L70.89,293.03 L71.28,292.8 L71.67,292.56 L72.07,292.32 L72.46,292.08 L72.85,291.82 L73.25,291.52 L73.64,291.19 L74.03,290.83 L74.42,290.44 L74.82,290.02 L75.21,289.57 L75.6,289.1 L76,288.6 L76.39,288.08 L76.78,287.54 L77.18,286.98 L77.57,286.41 L77.96,285.81 L78.35,285.2 L78.75,284.58 L79.14,283.95 L79.53,283.31 L79.93,282.66 L80.32,282 L80.71,281.34 L81.11,280.67 L81.5,280 L81.89,279.34 L82.28,278.67 L82.68,278.01 L83.07,277.35 L83.46,276.7 L83.86,276.05 L84.25,275.4 L84.64,274.73 L85.04,274.05 L85.43,273.34 L85.82,272.62 L86.22,271.89 L86.61,271.15 L87,270.4 L87.39,269.63 L87.79,268.87 L88.18,268.09 L88.57,267.31 L88.97,266.53 L89.36,265.75 L89.75,264.97 L90.14,264.19 L90.54,263.41 L90.93,262.64 L91.32,261.88 L91.72,261.13 L92.11,260.38 L92.5,259.63 L92.9,258.88 L93.29,258.11 L93.68,257.34 L94.07,256.57 L94.47,255.79 L94.86,255.02 L95.25,254.24 L95.65,253.47 L96.04,252.7 L96.43,251.94 L96.83,251.18 L97.22,250.44 L97.61,249.71 L98,249 L98.4,248.3 L98.79,247.62 L99.18,246.96 L99.58,246.32 L99.97,245.71 L100.36,245.1 L100.76,244.49 L101.15,243.88 L101.54,243.28 L101.94,242.7 L102.33,242.13 L102.72,241.6 L103.11,241.11 L103.51,240.65 L103.9,240.25 L104.29,239.9 L104.69,239.59 L105.08,239.3 L105.47,239.01 L105.86,238.74 L106.26,238.49 L106.65,238.26 L107.04,238.05 L107.44,237.86 L107.83,237.71 L108.22,237.58 L108.62,237.49 L109.01,237.41 L109.4,237.34 L109.79,237.27 L110.19,237.21 L110.58,237.15 L110.97,237.09 L111.37,237.05 L111.76,237 L112.15,236.97 L112.55,236.94 L112.94,236.92 L113.33,236.9 L113.72,236.9 L114.12,236.95 L114.51,237.09 L114.9,237.3 L115.3,237.55 L115.69,237.82 L116.08,238.1 L116.48,238.37 L116.87,238.61 L117.26,238.86 L117.66,239.12 L118.05,239.4 L118.44,239.72 L118.83,240.07 L119.23,240.48 L119.62,241.01 L120.01,241.69 L120.41,242.48 L120.8,243.35 L121.19,244.27 L121.58,245.18 L121.98,246.05 L122.37,246.93 L122.76,247.84 L123.16,248.76 L123.55,249.71 L123.94,250.67 L124.34,251.64 L124.73,252.61 L125.12,253.58 L125.51,254.56 L125.91,255.54 L126.3,256.56 L126.69,257.61 L127.09,258.7 L127.48,259.86 L127.87,261.12 L128.27,262.43 L128.66,263.78 L129.05,265.17 L129.44,266.57 L129.84,267.92 L130.23,269.19 L130.62,270.37 L131.02,271.51 L131.41,272.62 L131.8,273.69 L132.2,274.72 L132.59,275.73 L132.98,276.72 L133.38,277.68 L133.77,278.64 L134.16,279.57 L134.55,280.47 L134.95,281.35 L135.34,282.2 L135.73,283.02 L136.13,283.8 L136.52,284.55 L136.91,285.28 L137.31,285.99 L137.7,286.68 L138.09,287.34 L138.48,287.97 L138.88,288.58 L139.27,289.16 L139.66,289.7 L140.06,290.24 L140.45,290.76 L140.84,291.26 L141.24,291.74 L141.63,292.21 L142.02,292.65 L142.41,293.07 L142.81,293.47 L143.2,293.84 L143.2,295.6 Z" fill="none" stroke="#1c1a1a" stroke-width="1.1" stroke-linejoin="round"/>
<path d="M64.6,295.6 L64.6,295.31 L64.99,295.19 L65.39,295.06 L65.78,294.91 L66.17,294.76 L66.56,294.6 L66.96,294.43 L67.35,294.24 L67.74,294.04 L68.14,293.83 L68.53,293.61 L68.92,293.38 L69.32,293.13 L69.71,292.88 L70.1,292.62 L70.49,292.35 L70.89,292.08 L71.28,291.8 L71.67,291.52 L72.07,291.23 L72.46,290.93 L72.85,290.62 L73.25,290.29 L73.64,289.95 L74.03,289.59 L74.42,289.2 L74.82,288.8 L75.21,288.36 L75.6,287.89 L76,287.34 L76.39,286.72 L76.78,286.04 L77.18,285.31 L77.57,284.55 L77.96,283.77 L78.35,283 L78.75,282.24 L79.14,281.51 L79.53,280.81 L79.93,280.1 L80.32,279.4 L80.71,278.7 L81.11,278 L81.5,277.29 L81.89,276.57 L82.28,275.85 L82.68,275.11 L83.07,274.36 L83.46,273.59 L83.86,272.8 L84.25,272 L84.64,271.17 L85.04,270.34 L85.43,269.51 L85.82,268.67 L86.22,267.85 L86.61,267.04 L87,266.25 L87.39,265.48 L87.79,264.74 L88.18,264.02 L88.57,263.31 L88.97,262.6 L89.36,261.88 L89.75,261.15 L90.14,260.41 L90.54,259.63 L90.93,258.83 L91.32,257.98 L91.72,257.09 L92.11,256.17 L92.5,255.21 L92.9,254.22 L93.29,253.2 L93.68,252.16 L94.07,251.07 L94.47,249.91 L94.86,248.72 L95.25,247.53 L95.65,246.37 L96.04,245.27 L96.43,244.16 L96.83,243.06 L97.22,242 L97.61,241.01 L98,240.13 L98.4,239.29 L98.79,238.49 L99.18,237.86 L99.58,237.47 L99.97,237.17 L100.36,236.96 L100.76,236.91 L101.15,237.06 L101.54,237.37 L101.94,237.74 L102.33,238.27 L102.72,238.98 L103.11,239.82 L103.51,240.75 L103.9,241.74 L104.29,242.94 L104.69,244.28 L105.08,245.71 L105.47,247.15 L105.86,248.52 L106.26,249.9 L106.65,251.36 L107.04,252.8 L107.44,254.15 L107.83,255.33 L108.22,256.27 L108.62,257.02 L109.01,257.67 L109.4,258.29 L109.79,258.95 L110.19,259.7 L110.58,260.55 L110.97,261.48 L111.37,262.44 L111.76,263.39 L112.15,264.31 L112.55,265.15 L112.94,265.89 L113.33,266.51 L113.72,267.09 L114.12,267.63 L114.51,268.13 L114.9,268.6 L115.3,269.05 L115.69,269.47 L116.08,269.87 L116.48,270.26 L116.87,270.62 L117.26,270.96 L117.66,271.27 L118.05,271.53 L118.44,271.74 L118.83,271.91 L119.23,272.06 L119.62,272.24 L120.01,272.47 L120.41,272.81 L120.8,273.26 L121.19,273.8 L121.58,274.41 L121.98,275.07 L122.37,275.76 L122.76,276.46 L123.16,277.15 L123.55,277.84 L123.94,278.57 L124.34,279.35 L124.73,280.15 L125.12,280.96 L125.51,281.78 L125.91,282.58 L126.3,283.35 L126.69,284.1 L127.09,284.85 L127.48,285.61 L127.87,286.36 L128.27,287.1 L128.66,287.8 L129.05,288.46 L129.44,289.05 L129.84,289.58 L130.23,290.1 L130.62,290.61 L131.02,291.1 L131.41,291.57 L131.8,292.01 L132.2,292.42 L132.59,292.78 L132.98,293.08 L133.38,293.33 L133.77,293.52 L134.16,293.67 L134.55,293.82 L134.95,293.96 L135.34,294.09 L135.73,294.2 L136.13,294.32 L136.52,294.42 L136.91,294.52 L137.31,294.6 L137.7,294.69 L138.09,294.76 L138.48,294.83 L138.88,294.89 L139.27,294.95 L139.66,295.01 L140.06,295.05 L140.45,295.1 L140.84,295.14 L141.24,295.18 L141.63,295.21 L142.02,295.25 L142.41,295.27 L142.81,295.29 L143.2,295.31 L143.2,295.6 Z" fill="#fff"/>
<path d="M64.6,295.6 L64.6,295.6 L64.99,295.6 L65.39,295.6 L65.78,295.6 L66.17,295.6 L66.56,295.6 L66.96,295.6 L67.35,295.6 L67.74,295.6 L68.14,295.6 L68.53,295.6 L68.92,295.6 L69.32,295.6 L69.71,295.6 L70.1,295.6 L70.49,295.6 L70.89,295.6 L71.28,295.6 L71.67,295.6 L72.07,295.6 L72.46,295.6 L72.85,295.6 L73.25,295.6 L73.64,295.6 L74.03,295.6 L74.42,295.6 L74.82,295.6 L75.21,295.6 L75.6,295.6 L76,295.6 L76.39,295.6 L76.78,295.6 L77.18,295.6 L77.57,295.6 L77.96,295.6 L78.35,295.6 L78.75,295.6 L79.14,295.6 L79.53,295.6 L79.93,295.6 L80.32,295.6 L80.71,295.6 L81.11,295.6 L81.5,295.6 L81.89,295.6 L82.28,295.6 L82.68,295.6 L83.07,295.6 L83.46,295.6 L83.86,295.6 L84.25,295.6 L84.64,295.59 L85.04,295.57 L85.43,295.54 L85.82,295.49 L86.22,295.43 L86.61,295.36 L87,295.28 L87.39,295.2 L87.79,295.11 L88.18,295.01 L88.57,294.88 L88.97,294.7 L89.36,294.46 L89.75,294.18 L90.14,293.86 L90.54,293.5 L90.93,293.11 L91.32,292.7 L91.72,292.27 L92.11,291.82 L92.5,291.36 L92.9,290.9 L93.29,290.42 L93.68,289.9 L94.07,289.34 L94.47,288.73 L94.86,288.09 L95.25,287.41 L95.65,286.7 L96.04,285.94 L96.43,285.16 L96.83,284.34 L97.22,283.49 L97.61,282.6 L98,281.69 L98.4,280.7 L98.79,279.61 L99.18,278.43 L99.58,277.17 L99.97,275.85 L100.36,274.47 L100.76,273.05 L101.15,271.61 L101.54,270.16 L101.94,268.7 L102.33,267.25 L102.72,265.82 L103.11,264.38 L103.51,262.9 L103.9,261.37 L104.29,259.76 L104.69,258.05 L105.08,256.21 L105.47,253.98 L105.86,251.31 L106.26,248.54 L106.65,246.01 L107.04,244.07 L107.44,242.87 L107.83,241.87 L108.22,240.99 L108.62,240.23 L109.01,239.6 L109.4,239.07 L109.79,238.66 L110.19,238.31 L110.58,237.97 L110.97,237.66 L111.37,237.39 L111.76,237.17 L112.15,237.01 L112.55,236.92 L112.94,236.91 L113.33,236.96 L113.72,237.06 L114.12,237.19 L114.51,237.34 L114.9,237.49 L115.3,237.63 L115.69,237.78 L116.08,237.96 L116.48,238.2 L116.87,238.52 L117.26,239.13 L117.66,240.01 L118.05,241.1 L118.44,242.34 L118.83,243.66 L119.23,245 L119.62,246.29 L120.01,247.6 L120.41,249.01 L120.8,250.49 L121.19,252.02 L121.58,253.58 L121.98,255.14 L122.37,256.74 L122.76,258.39 L123.16,260.05 L123.55,261.7 L123.94,263.35 L124.34,265.03 L124.73,266.7 L125.12,268.32 L125.51,269.84 L125.91,271.24 L126.3,272.6 L126.69,273.91 L127.09,275.16 L127.48,276.35 L127.87,277.47 L128.27,278.52 L128.66,279.55 L129.05,280.56 L129.44,281.53 L129.84,282.45 L130.23,283.32 L130.62,284.13 L131.02,284.86 L131.41,285.51 L131.8,286.12 L132.2,286.7 L132.59,287.25 L132.98,287.78 L133.38,288.29 L133.77,288.77 L134.16,289.22 L134.55,289.64 L134.95,290.04 L135.34,290.41 L135.73,290.76 L136.13,291.08 L136.52,291.38 L136.91,291.67 L137.31,291.95 L137.7,292.22 L138.09,292.48 L138.48,292.72 L138.88,292.95 L139.27,293.16 L139.66,293.36 L140.06,293.54 L140.45,293.7 L140.84,293.85 L141.24,293.97 L141.63,294.09 L142.02,294.19 L142.41,294.29 L142.81,294.36 L143.2,294.43 L143.2,295.6 Z" fill="#cf3a40"/>
<path d="M64.6,295.6 L64.6,295.6 L64.99,295.6 L65.39,295.6 L65.78,295.6 L66.17,295.6 L66.56,295.6 L66.96,295.6 L67.35,295.6 L67.74,295.6 L68.14,295.6 L68.53,295.6 L68.92,295.6 L69.32,295.6 L69.71,295.6 L70.1,295.6 L70.49,295.6 L70.89,295.6 L71.28,295.6 L71.67,295.6 L72.07,295.6 L72.46,295.6 L72.85,295.6 L73.25,295.6 L73.64,295.6 L74.03,295.6 L74.42,295.6 L74.82,295.6 L75.21,295.6 L75.6,295.6 L76,295.6 L76.39,295.6 L76.78,295.6 L77.18,295.6 L77.57,295.6 L77.96,295.6 L78.35,295.6 L78.75,295.6 L79.14,295.6 L79.53,295.6 L79.93,295.6 L80.32,295.6 L80.71,295.6 L81.11,295.6 L81.5,295.6 L81.89,295.6 L82.28,295.6 L82.68,295.6 L83.07,295.6 L83.46,295.6 L83.86,295.6 L84.25,295.6 L84.64,295.59 L85.04,295.57 L85.43,295.54 L85.82,295.49 L86.22,295.43 L86.61,295.36 L87,295.28 L87.39,295.2 L87.79,295.11 L88.18,295.01 L88.57,294.88 L88.97,294.7 L89.36,294.46 L89.75,294.18 L90.14,293.86 L90.54,293.5 L90.93,293.11 L91.32,292.7 L91.72,292.27 L92.11,291.82 L92.5,291.36 L92.9,290.9 L93.29,290.42 L93.68,289.9 L94.07,289.34 L94.47,288.73 L94.86,288.09 L95.25,287.41 L95.65,286.7 L96.04,285.94 L96.43,285.16 L96.83,284.34 L97.22,283.49 L97.61,282.6 L98,281.69 L98.4,280.7 L98.79,279.61 L99.18,278.43 L99.58,277.17 L99.97,275.85 L100.36,274.47 L100.76,273.05 L101.15,271.61 L101.54,270.16 L101.94,268.7 L102.33,267.25 L102.72,265.82 L103.11,264.38 L103.51,262.9 L103.9,261.37 L104.29,259.76 L104.69,258.05 L105.08,256.21 L105.47,253.98 L105.86,251.31 L106.26,248.54 L106.65,246.01 L107.04,244.07 L107.44,242.87 L107.83,241.87 L108.22,240.99 L108.62,240.23 L109.01,239.6 L109.4,239.07 L109.79,238.66 L110.19,238.31 L110.58,237.97 L110.97,237.66 L111.37,237.39 L111.76,237.17 L112.15,237.01 L112.55,236.92 L112.94,236.91 L113.33,236.96 L113.72,237.06 L114.12,237.19 L114.51,237.34 L114.9,237.49 L115.3,237.63 L115.69,237.78 L116.08,237.96 L116.48,238.2 L116.87,238.52 L117.26,239.13 L117.66,240.01 L118.05,241.1 L118.44,242.34 L118.83,243.66 L119.23,245 L119.62,246.29 L120.01,247.6 L120.41,249.01 L120.8,250.49 L121.19,252.02 L121.58,253.58 L121.98,255.14 L122.37,256.74 L122.76,258.39 L123.16,260.05 L123.55,261.7 L123.94,263.35 L124.34,265.03 L124.73,266.7 L125.12,268.32 L125.51,269.84 L125.91,271.24 L126.3,272.6 L126.69,273.91 L127.09,275.16 L127.48,276.35 L127.87,277.47 L128.27,278.52 L128.66,279.55 L129.05,280.56 L129.44,281.53 L129.84,282.45 L130.23,283.32 L130.62,284.13 L131.02,284.86 L131.41,285.51 L131.8,286.12 L132.2,286.7 L132.59,287.25 L132.98,287.78 L133.38,288.29 L133.77,288.77 L134.16,289.22 L134.55,289.64 L134.95,290.04 L135.34,290.41 L135.73,290.76 L136.13,291.08 L136.52,291.38 L136.91,291.67 L137.31,291.95 L137.7,292.22 L138.09,292.48 L138.48,292.72 L138.88,292.95 L139.27,293.16 L139.66,293.36 L140.06,293.54 L140.45,293.7 L140.84,293.85 L141.24,293.97 L141.63,294.09 L142.02,294.19 L142.41,294.29 L142.81,294.36 L143.2,294.43 L143.2,295.6 Z" fill="none" stroke="#1c1a1a" stroke-width="1.1" stroke-linejoin="round"/>
<path d="M64.6,295.6 L64.6,295.31 L64.99,295.19 L65.39,295.06 L65.78,294.91 L66.17,294.76 L66.56,294.6 L66.96,294.43 L67.35,294.24 L67.74,294.04 L68.14,293.83 L68.53,293.61 L68.92,293.38 L69.32,293.13 L69.71,292.88 L70.1,292.62 L70.49,292.35 L70.89,292.08 L71.28,291.8 L71.67,291.52 L72.07,291.23 L72.46,290.93 L72.85,290.62 L73.25,290.29 L73.64,289.95 L74.03,289.59 L74.42,289.2 L74.82,288.8 L75.21,288.36 L75.6,287.89 L76,287.34 L76.39,286.72 L76.78,286.04 L77.18,285.31 L77.57,284.55 L77.96,283.77 L78.35,283 L78.75,282.24 L79.14,281.51 L79.53,280.81 L79.93,280.1 L80.32,279.4 L80.71,278.7 L81.11,278 L81.5,277.29 L81.89,276.57 L82.28,275.85 L82.68,275.11 L83.07,274.36 L83.46,273.59 L83.86,272.8 L84.25,272 L84.64,271.17 L85.04,270.34 L85.43,269.51 L85.82,268.67 L86.22,267.85 L86.61,267.04 L87,266.25 L87.39,265.48 L87.79,264.74 L88.18,264.02 L88.57,263.31 L88.97,262.6 L89.36,261.88 L89.75,261.15 L90.14,260.41 L90.54,259.63 L90.93,258.83 L91.32,257.98 L91.72,257.09 L92.11,256.17 L92.5,255.21 L92.9,254.22 L93.29,253.2 L93.68,252.16 L94.07,251.07 L94.47,249.91 L94.86,248.72 L95.25,247.53 L95.65,246.37 L96.04,245.27 L96.43,244.16 L96.83,243.06 L97.22,242 L97.61,241.01 L98,240.13 L98.4,239.29 L98.79,238.49 L99.18,237.86 L99.58,237.47 L99.97,237.17 L100.36,236.96 L100.76,236.91 L101.15,237.06 L101.54,237.37 L101.94,237.74 L102.33,238.27 L102.72,238.98 L103.11,239.82 L103.51,240.75 L103.9,241.74 L104.29,242.94 L104.69,244.28 L105.08,245.71 L105.47,247.15 L105.86,248.52 L106.26,249.9 L106.65,251.36 L107.04,252.8 L107.44,254.15 L107.83,255.33 L108.22,256.27 L108.62,257.02 L109.01,257.67 L109.4,258.29 L109.79,258.95 L110.19,259.7 L110.58,260.55 L110.97,261.48 L111.37,262.44 L111.76,263.39 L112.15,264.31 L112.55,265.15 L112.94,265.89 L113.33,266.51 L113.72,267.09 L114.12,267.63 L114.51,268.13 L114.9,268.6 L115.3,269.05 L115.69,269.47 L116.08,269.87 L116.48,270.26 L116.87,270.62 L117.26,270.96 L117.66,271.27 L118.05,271.53 L118.44,271.74 L118.83,271.91 L119.23,272.06 L119.62,272.24 L120.01,272.47 L120.41,272.81 L120.8,273.26 L121.19,273.8 L121.58,274.41 L121.98,275.07 L122.37,275.76 L122.76,276.46 L123.16,277.15 L123.55,277.84 L123.94,278.57 L124.34,279.35 L124.73,280.15 L125.12,280.96 L125.51,281.78 L125.91,282.58 L126.3,283.35 L126.69,284.1 L127.09,284.85 L127.48,285.61 L127.87,286.36 L128.27,287.1 L128.66,287.8 L129.05,288.46 L129.44,289.05 L129.84,289.58 L130.23,290.1 L130.62,290.61 L131.02,291.1 L131.41,291.57 L131.8,292.01 L132.2,292.42 L132.59,292.78 L132.98,293.08 L133.38,293.33 L133.77,293.52 L134.16,293.67 L134.55,293.82 L134.95,293.96 L135.34,294.09 L135.73,294.2 L136.13,294.32 L136.52,294.42 L136.91,294.52 L137.31,294.6 L137.7,294.69 L138.09,294.76 L138.48,294.83 L138.88,294.89 L139.27,294.95 L139.66,295.01 L140.06,295.05 L140.45,295.1 L140.84,295.14 L141.24,295.18 L141.63,295.21 L142.02,295.25 L142.41,295.27 L142.81,295.29 L143.2,295.31 L143.2,295.6 Z" fill="rgba(231,137,37,0.72)"/>
<path d="M64.6,295.6 L64.6,295.31 L64.99,295.19 L65.39,295.06 L65.78,294.91 L66.17,294.76 L66.56,294.6 L66.96,294.43 L67.35,294.24 L67.74,294.04 L68.14,293.83 L68.53,293.61 L68.92,293.38 L69.32,293.13 L69.71,292.88 L70.1,292.62 L70.49,292.35 L70.89,292.08 L71.28,291.8 L71.67,291.52 L72.07,291.23 L72.46,290.93 L72.85,290.62 L73.25,290.29 L73.64,289.95 L74.03,289.59 L74.42,289.2 L74.82,288.8 L75.21,288.36 L75.6,287.89 L76,287.34 L76.39,286.72 L76.78,286.04 L77.18,285.31 L77.57,284.55 L77.96,283.77 L78.35,283 L78.75,282.24 L79.14,281.51 L79.53,280.81 L79.93,280.1 L80.32,279.4 L80.71,278.7 L81.11,278 L81.5,277.29 L81.89,276.57 L82.28,275.85 L82.68,275.11 L83.07,274.36 L83.46,273.59 L83.86,272.8 L84.25,272 L84.64,271.17 L85.04,270.34 L85.43,269.51 L85.82,268.67 L86.22,267.85 L86.61,267.04 L87,266.25 L87.39,265.48 L87.79,264.74 L88.18,264.02 L88.57,263.31 L88.97,262.6 L89.36,261.88 L89.75,261.15 L90.14,260.41 L90.54,259.63 L90.93,258.83 L91.32,257.98 L91.72,257.09 L92.11,256.17 L92.5,255.21 L92.9,254.22 L93.29,253.2 L93.68,252.16 L94.07,251.07 L94.47,249.91 L94.86,248.72 L95.25,247.53 L95.65,246.37 L96.04,245.27 L96.43,244.16 L96.83,243.06 L97.22,242 L97.61,241.01 L98,240.13 L98.4,239.29 L98.79,238.49 L99.18,237.86 L99.58,237.47 L99.97,237.17 L100.36,236.96 L100.76,236.91 L101.15,237.06 L101.54,237.37 L101.94,237.74 L102.33,238.27 L102.72,238.98 L103.11,239.82 L103.51,240.75 L103.9,241.74 L104.29,242.94 L104.69,244.28 L105.08,245.71 L105.47,247.15 L105.86,248.52 L106.26,249.9 L106.65,251.36 L107.04,252.8 L107.44,254.15 L107.83,255.33 L108.22,256.27 L108.62,257.02 L109.01,257.67 L109.4,258.29 L109.79,258.95 L110.19,259.7 L110.58,260.55 L110.97,261.48 L111.37,262.44 L111.76,263.39 L112.15,264.31 L112.55,265.15 L112.94,265.89 L113.33,266.51 L113.72,267.09 L114.12,267.63 L114.51,268.13 L114.9,268.6 L115.3,269.05 L115.69,269.47 L116.08,269.87 L116.48,270.26 L116.87,270.62 L117.26,270.96 L117.66,271.27 L118.05,271.53 L118.44,271.74 L118.83,271.91 L119.23,272.06 L119.62,272.24 L120.01,272.47 L120.41,272.81 L120.8,273.26 L121.19,273.8 L121.58,274.41 L121.98,275.07 L122.37,275.76 L122.76,276.46 L123.16,277.15 L123.55,277.84 L123.94,278.57 L124.34,279.35 L124.73,280.15 L125.12,280.96 L125.51,281.78 L125.91,282.58 L126.3,283.35 L126.69,284.1 L127.09,284.85 L127.48,285.61 L127.87,286.36 L128.27,287.1 L128.66,287.8 L129.05,288.46 L129.44,289.05 L129.84,289.58 L130.23,290.1 L130.62,290.61 L131.02,291.1 L131.41,291.57 L131.8,292.01 L132.2,292.42 L132.59,292.78 L132.98,293.08 L133.38,293.33 L133.77,293.52 L134.16,293.67 L134.55,293.82 L134.95,293.96 L135.34,294.09 L135.73,294.2 L136.13,294.32 L136.52,294.42 L136.91,294.52 L137.31,294.6 L137.7,294.69 L138.09,294.76 L138.48,294.83 L138.88,294.89 L139.27,294.95 L139.66,295.01 L140.06,295.05 L140.45,295.1 L140.84,295.14 L141.24,295.18 L141.63,295.21 L142.02,295.25 L142.41,295.27 L142.81,295.29 L143.2,295.31 L143.2,295.6 Z" fill="none" stroke="#1c1a1a" stroke-width="1.1" stroke-linejoin="round"/>
<line x1="61.3" y1="234.6" x2="61.3" y2="299.1" stroke="#1e1e1e" stroke-width="1.35"/>
<line x1="60.65" y1="298.5" x2="146.4" y2="298.5" stroke="#1e1e1e" stroke-width="1.35"/>
<line x1="58" y1="236.6" x2="61.4" y2="236.6" stroke="#1e1e1e" stroke-width="1.1"/>
<text class="n" transform="translate(54.4,239.5) scale(0.895,1)" font-size="9.5" text-anchor="end" fill="#2e2e2e">1.00</text>
<line x1="58" y1="251.35" x2="61.4" y2="251.35" stroke="#1e1e1e" stroke-width="1.1"/>
<text class="n" transform="translate(54.4,254.25) scale(0.895,1)" font-size="9.5" text-anchor="end" fill="#2e2e2e">0.75</text>
<line x1="58" y1="266.1" x2="61.4" y2="266.1" stroke="#1e1e1e" stroke-width="1.1"/>
<text class="n" transform="translate(54.4,269) scale(0.895,1)" font-size="9.5" text-anchor="end" fill="#2e2e2e">0.50</text>
<line x1="58" y1="280.85" x2="61.4" y2="280.85" stroke="#1e1e1e" stroke-width="1.1"/>
<text class="n" transform="translate(54.4,283.75) scale(0.895,1)" font-size="9.5" text-anchor="end" fill="#2e2e2e">0.25</text>
<line x1="58" y1="295.6" x2="61.4" y2="295.6" stroke="#1e1e1e" stroke-width="1.1"/>
<text class="n" transform="translate(54.4,298.5) scale(0.895,1)" font-size="9.5" text-anchor="end" fill="#2e2e2e">0.00</text>
<line x1="64.6" y1="298.5" x2="64.6" y2="301.4" stroke="#1e1e1e" stroke-width="1.1"/>
<text class="n" transform="translate(64.6,313) scale(0.895,1)" font-size="9.5" text-anchor="middle" fill="#2e2e2e">0</text>
<line x1="84.25" y1="298.5" x2="84.25" y2="301.4" stroke="#1e1e1e" stroke-width="1.1"/>
<text class="n" transform="translate(84.25,313) scale(0.895,1)" font-size="9.5" text-anchor="middle" fill="#2e2e2e">25</text>
<line x1="103.9" y1="298.5" x2="103.9" y2="301.4" stroke="#1e1e1e" stroke-width="1.1"/>
<text class="n" transform="translate(103.9,313) scale(0.895,1)" font-size="9.5" text-anchor="middle" fill="#2e2e2e">50</text>
<line x1="123.55" y1="298.5" x2="123.55" y2="301.4" stroke="#1e1e1e" stroke-width="1.1"/>
<text class="n" transform="translate(123.55,313) scale(0.895,1)" font-size="9.5" text-anchor="middle" fill="#2e2e2e">75</text>
<line x1="143.2" y1="298.5" x2="143.2" y2="301.4" stroke="#1e1e1e" stroke-width="1.1"/>
<text class="n" transform="translate(143.2,313) scale(0.895,1)" font-size="9.5" text-anchor="middle" fill="#2e2e2e">100</text>
<text class="n" x="104" y="334.1" font-size="8.6" text-anchor="middle" textLength="62.4" lengthAdjust="spacingAndGlyphs" fill="#2e2e2e">S/D w/o <tspan font-style="italic">DDX41</tspan></text>
<path d="M64.6,401.3 L64.6,401.01 L64.99,401 L65.39,400.98 L65.78,400.94 L66.17,400.89 L66.56,400.83 L66.96,400.76 L67.35,400.68 L67.74,400.58 L68.14,400.48 L68.53,400.37 L68.92,400.25 L69.32,400.12 L69.71,399.99 L70.1,399.85 L70.49,399.71 L70.89,399.56 L71.28,399.41 L71.67,399.26 L72.07,399.11 L72.46,398.95 L72.85,398.78 L73.25,398.59 L73.64,398.38 L74.03,398.15 L74.42,397.9 L74.82,397.62 L75.21,397.34 L75.6,397.03 L76,396.71 L76.39,396.38 L76.78,396.03 L77.18,395.67 L77.57,395.3 L77.96,394.92 L78.35,394.53 L78.75,394.13 L79.14,393.73 L79.53,393.32 L79.93,392.91 L80.32,392.5 L80.71,392.06 L81.11,391.61 L81.5,391.13 L81.89,390.63 L82.28,390.1 L82.68,389.56 L83.07,388.99 L83.46,388.42 L83.86,387.82 L84.25,387.21 L84.64,386.6 L85.04,385.97 L85.43,385.33 L85.82,384.68 L86.22,384.03 L86.61,383.38 L87,382.72 L87.39,382.07 L87.79,381.41 L88.18,380.75 L88.57,380.09 L88.97,379.41 L89.36,378.71 L89.75,377.99 L90.14,377.26 L90.54,376.52 L90.93,375.77 L91.32,375.01 L91.72,374.24 L92.11,373.47 L92.5,372.7 L92.9,371.94 L93.29,371.17 L93.68,370.41 L94.07,369.66 L94.47,368.91 L94.86,368.18 L95.25,367.47 L95.65,366.76 L96.04,366.08 L96.43,365.41 L96.83,364.74 L97.22,364.07 L97.61,363.41 L98,362.76 L98.4,362.11 L98.79,361.48 L99.18,360.84 L99.58,360.22 L99.97,359.61 L100.36,359.01 L100.76,358.42 L101.15,357.84 L101.54,357.27 L101.94,356.73 L102.33,356.22 L102.72,355.72 L103.11,355.24 L103.51,354.76 L103.9,354.29 L104.29,353.81 L104.69,353.32 L105.08,352.8 L105.47,352.27 L105.86,351.7 L106.26,351.06 L106.65,350.33 L107.04,349.54 L107.44,348.73 L107.83,347.92 L108.22,347.14 L108.62,346.42 L109.01,345.8 L109.4,345.3 L109.79,344.93 L110.19,344.6 L110.58,344.28 L110.97,343.98 L111.37,343.69 L111.76,343.43 L112.15,343.2 L112.55,342.99 L112.94,342.83 L113.33,342.7 L113.72,342.63 L114.12,342.6 L114.51,342.61 L114.9,342.66 L115.3,342.72 L115.69,342.82 L116.08,342.93 L116.48,343.07 L116.87,343.23 L117.26,343.4 L117.66,343.59 L118.05,343.8 L118.44,344.02 L118.83,344.31 L119.23,344.75 L119.62,345.33 L120.01,346.02 L120.41,346.8 L120.8,347.64 L121.19,348.52 L121.58,349.42 L121.98,350.43 L122.37,351.59 L122.76,352.86 L123.16,354.22 L123.55,355.64 L123.94,357.08 L124.34,358.52 L124.73,359.95 L125.12,361.45 L125.51,362.99 L125.91,364.57 L126.3,366.17 L126.69,367.78 L127.09,369.38 L127.48,370.98 L127.87,372.61 L128.27,374.29 L128.66,375.98 L129.05,377.66 L129.44,379.29 L129.84,380.85 L130.23,382.3 L130.62,383.66 L131.02,385.02 L131.41,386.35 L131.8,387.62 L132.2,388.81 L132.59,389.9 L132.98,390.85 L133.38,391.64 L133.77,392.36 L134.16,393.03 L134.55,393.66 L134.95,394.26 L135.34,394.81 L135.73,395.33 L136.13,395.81 L136.52,396.25 L136.91,396.66 L137.31,397.03 L137.7,397.37 L138.09,397.69 L138.48,398 L138.88,398.31 L139.27,398.6 L139.66,398.87 L140.06,399.13 L140.45,399.36 L140.84,399.56 L141.24,399.74 L141.63,399.88 L142.02,399.98 L142.41,400.05 L142.81,400.1 L143.2,400.13 L143.2,401.3 Z" fill="#d5d5db"/>
<path d="M64.6,401.3 L64.6,401.01 L64.99,401 L65.39,400.98 L65.78,400.94 L66.17,400.89 L66.56,400.83 L66.96,400.76 L67.35,400.68 L67.74,400.58 L68.14,400.48 L68.53,400.37 L68.92,400.25 L69.32,400.12 L69.71,399.99 L70.1,399.85 L70.49,399.71 L70.89,399.56 L71.28,399.41 L71.67,399.26 L72.07,399.11 L72.46,398.95 L72.85,398.78 L73.25,398.59 L73.64,398.38 L74.03,398.15 L74.42,397.9 L74.82,397.62 L75.21,397.34 L75.6,397.03 L76,396.71 L76.39,396.38 L76.78,396.03 L77.18,395.67 L77.57,395.3 L77.96,394.92 L78.35,394.53 L78.75,394.13 L79.14,393.73 L79.53,393.32 L79.93,392.91 L80.32,392.5 L80.71,392.06 L81.11,391.61 L81.5,391.13 L81.89,390.63 L82.28,390.1 L82.68,389.56 L83.07,388.99 L83.46,388.42 L83.86,387.82 L84.25,387.21 L84.64,386.6 L85.04,385.97 L85.43,385.33 L85.82,384.68 L86.22,384.03 L86.61,383.38 L87,382.72 L87.39,382.07 L87.79,381.41 L88.18,380.75 L88.57,380.09 L88.97,379.41 L89.36,378.71 L89.75,377.99 L90.14,377.26 L90.54,376.52 L90.93,375.77 L91.32,375.01 L91.72,374.24 L92.11,373.47 L92.5,372.7 L92.9,371.94 L93.29,371.17 L93.68,370.41 L94.07,369.66 L94.47,368.91 L94.86,368.18 L95.25,367.47 L95.65,366.76 L96.04,366.08 L96.43,365.41 L96.83,364.74 L97.22,364.07 L97.61,363.41 L98,362.76 L98.4,362.11 L98.79,361.48 L99.18,360.84 L99.58,360.22 L99.97,359.61 L100.36,359.01 L100.76,358.42 L101.15,357.84 L101.54,357.27 L101.94,356.73 L102.33,356.22 L102.72,355.72 L103.11,355.24 L103.51,354.76 L103.9,354.29 L104.29,353.81 L104.69,353.32 L105.08,352.8 L105.47,352.27 L105.86,351.7 L106.26,351.06 L106.65,350.33 L107.04,349.54 L107.44,348.73 L107.83,347.92 L108.22,347.14 L108.62,346.42 L109.01,345.8 L109.4,345.3 L109.79,344.93 L110.19,344.6 L110.58,344.28 L110.97,343.98 L111.37,343.69 L111.76,343.43 L112.15,343.2 L112.55,342.99 L112.94,342.83 L113.33,342.7 L113.72,342.63 L114.12,342.6 L114.51,342.61 L114.9,342.66 L115.3,342.72 L115.69,342.82 L116.08,342.93 L116.48,343.07 L116.87,343.23 L117.26,343.4 L117.66,343.59 L118.05,343.8 L118.44,344.02 L118.83,344.31 L119.23,344.75 L119.62,345.33 L120.01,346.02 L120.41,346.8 L120.8,347.64 L121.19,348.52 L121.58,349.42 L121.98,350.43 L122.37,351.59 L122.76,352.86 L123.16,354.22 L123.55,355.64 L123.94,357.08 L124.34,358.52 L124.73,359.95 L125.12,361.45 L125.51,362.99 L125.91,364.57 L126.3,366.17 L126.69,367.78 L127.09,369.38 L127.48,370.98 L127.87,372.61 L128.27,374.29 L128.66,375.98 L129.05,377.66 L129.44,379.29 L129.84,380.85 L130.23,382.3 L130.62,383.66 L131.02,385.02 L131.41,386.35 L131.8,387.62 L132.2,388.81 L132.59,389.9 L132.98,390.85 L133.38,391.64 L133.77,392.36 L134.16,393.03 L134.55,393.66 L134.95,394.26 L135.34,394.81 L135.73,395.33 L136.13,395.81 L136.52,396.25 L136.91,396.66 L137.31,397.03 L137.7,397.37 L138.09,397.69 L138.48,398 L138.88,398.31 L139.27,398.6 L139.66,398.87 L140.06,399.13 L140.45,399.36 L140.84,399.56 L141.24,399.74 L141.63,399.88 L142.02,399.98 L142.41,400.05 L142.81,400.1 L143.2,400.13 L143.2,401.3 Z" fill="none" stroke="#1c1a1a" stroke-width="1.1" stroke-linejoin="round"/>
<path d="M64.6,401.3 L64.6,401.3 L64.99,401.26 L65.39,401.2 L65.78,401.12 L66.17,401.02 L66.56,400.88 L66.96,400.7 L67.35,400.49 L67.74,400.25 L68.14,399.99 L68.53,399.7 L68.92,399.4 L69.32,399.09 L69.71,398.76 L70.1,398.43 L70.49,398.08 L70.89,397.68 L71.28,397.24 L71.67,396.75 L72.07,396.24 L72.46,395.69 L72.85,395.13 L73.25,394.54 L73.64,393.95 L74.03,393.34 L74.42,392.74 L74.82,392.12 L75.21,391.47 L75.6,390.79 L76,390.08 L76.39,389.35 L76.78,388.63 L77.18,387.91 L77.57,387.21 L77.96,386.53 L78.35,385.86 L78.75,385.19 L79.14,384.52 L79.53,383.85 L79.93,383.18 L80.32,382.49 L80.71,381.79 L81.11,381.07 L81.5,380.33 L81.89,379.58 L82.28,378.82 L82.68,378.06 L83.07,377.29 L83.46,376.53 L83.86,375.78 L84.25,375.03 L84.64,374.3 L85.04,373.59 L85.43,372.91 L85.82,372.25 L86.22,371.61 L86.61,370.98 L87,370.35 L87.39,369.71 L87.79,369.06 L88.18,368.38 L88.57,367.67 L88.97,366.92 L89.36,366.13 L89.75,365.32 L90.14,364.48 L90.54,363.62 L90.93,362.73 L91.32,361.83 L91.72,360.9 L92.11,359.93 L92.5,358.92 L92.9,357.87 L93.29,356.81 L93.68,355.75 L94.07,354.7 L94.47,353.68 L94.86,352.68 L95.25,351.65 L95.65,350.61 L96.04,349.57 L96.43,348.58 L96.83,347.65 L97.22,346.83 L97.61,346.12 L98,345.47 L98.4,344.82 L98.79,344.18 L99.18,343.61 L99.58,343.14 L99.97,342.79 L100.36,342.62 L100.76,342.64 L101.15,342.87 L101.54,343.26 L101.94,343.79 L102.33,344.42 L102.72,345.11 L103.11,345.84 L103.51,346.55 L103.9,347.25 L104.29,348.04 L104.69,348.92 L105.08,349.86 L105.47,350.86 L105.86,351.89 L106.26,352.95 L106.65,354.01 L107.04,355.09 L107.44,356.23 L107.83,357.42 L108.22,358.63 L108.62,359.86 L109.01,361.1 L109.4,362.31 L109.79,363.51 L110.19,364.78 L110.58,366.1 L110.97,367.43 L111.37,368.72 L111.76,369.91 L112.15,370.95 L112.55,371.81 L112.94,372.49 L113.33,373.11 L113.72,373.69 L114.12,374.22 L114.51,374.7 L114.9,375.15 L115.3,375.56 L115.69,375.93 L116.08,376.28 L116.48,376.59 L116.87,376.86 L117.26,377.09 L117.66,377.3 L118.05,377.49 L118.44,377.68 L118.83,377.88 L119.23,378.1 L119.62,378.35 L120.01,378.64 L120.41,378.99 L120.8,379.4 L121.19,379.85 L121.58,380.36 L121.98,380.9 L122.37,381.48 L122.76,382.09 L123.16,382.74 L123.55,383.51 L123.94,384.36 L124.34,385.27 L124.73,386.21 L125.12,387.17 L125.51,388.09 L125.91,388.97 L126.3,389.85 L126.69,390.77 L127.09,391.7 L127.48,392.61 L127.87,393.46 L128.27,394.23 L128.66,394.88 L129.05,395.39 L129.44,395.85 L129.84,396.29 L130.23,396.7 L130.62,397.09 L131.02,397.44 L131.41,397.77 L131.8,398.07 L132.2,398.33 L132.59,398.56 L132.98,398.76 L133.38,398.92 L133.77,399.07 L134.16,399.2 L134.55,399.33 L134.95,399.44 L135.34,399.55 L135.73,399.65 L136.13,399.75 L136.52,399.84 L136.91,399.92 L137.31,400 L137.7,400.07 L138.09,400.14 L138.48,400.2 L138.88,400.26 L139.27,400.31 L139.66,400.37 L140.06,400.42 L140.45,400.47 L140.84,400.51 L141.24,400.56 L141.63,400.6 L142.02,400.63 L142.41,400.67 L142.81,400.69 L143.2,400.71 L143.2,401.3 Z" fill="#fff"/>
<path d="M64.6,401.3 L64.6,401.3 L64.99,401.27 L65.39,401.21 L65.78,401.12 L66.17,401 L66.56,400.82 L66.96,400.58 L67.35,400.29 L67.74,399.96 L68.14,399.59 L68.53,399.2 L68.92,398.78 L69.32,398.35 L69.71,397.9 L70.1,397.46 L70.49,396.99 L70.89,396.48 L71.28,395.93 L71.67,395.33 L72.07,394.7 L72.46,394.02 L72.85,393.32 L73.25,392.6 L73.64,391.84 L74.03,391.07 L74.42,390.29 L74.82,389.48 L75.21,388.61 L75.6,387.69 L76,386.71 L76.39,385.71 L76.78,384.67 L77.18,383.63 L77.57,382.57 L77.96,381.51 L78.35,380.41 L78.75,379.28 L79.14,378.13 L79.53,376.97 L79.93,375.79 L80.32,374.6 L80.71,373.41 L81.11,372.2 L81.5,370.95 L81.89,369.69 L82.28,368.43 L82.68,367.17 L83.07,365.93 L83.46,364.73 L83.86,363.55 L84.25,362.37 L84.64,361.19 L85.04,360.04 L85.43,358.91 L85.82,357.81 L86.22,356.74 L86.61,355.72 L87,354.72 L87.39,353.74 L87.79,352.77 L88.18,351.85 L88.57,350.96 L88.97,350.14 L89.36,349.38 L89.75,348.67 L90.14,347.98 L90.54,347.31 L90.93,346.68 L91.32,346.1 L91.72,345.58 L92.11,345.13 L92.5,344.76 L92.9,344.42 L93.29,344.08 L93.68,343.76 L94.07,343.45 L94.47,343.18 L94.86,342.95 L95.25,342.77 L95.65,342.65 L96.04,342.6 L96.43,342.61 L96.83,342.67 L97.22,342.75 L97.61,342.87 L98,343 L98.4,343.16 L98.79,343.32 L99.18,343.48 L99.58,343.66 L99.97,343.88 L100.36,344.13 L100.76,344.44 L101.15,344.79 L101.54,345.22 L101.94,345.8 L102.33,346.52 L102.72,347.37 L103.11,348.33 L103.51,349.38 L103.9,350.57 L104.29,352.11 L104.69,353.94 L105.08,355.97 L105.47,358.1 L105.86,360.26 L106.26,362.34 L106.65,364.26 L107.04,366 L107.44,367.71 L107.83,369.39 L108.22,371.04 L108.62,372.65 L109.01,374.22 L109.4,375.75 L109.79,377.24 L110.19,378.73 L110.58,380.22 L110.97,381.68 L111.37,383.08 L111.76,384.42 L112.15,385.65 L112.55,386.77 L112.94,387.79 L113.33,388.78 L113.72,389.75 L114.12,390.68 L114.51,391.57 L114.9,392.42 L115.3,393.21 L115.69,393.94 L116.08,394.61 L116.48,395.2 L116.87,395.72 L117.26,396.16 L117.66,396.58 L118.05,396.99 L118.44,397.38 L118.83,397.75 L119.23,398.1 L119.62,398.43 L120.01,398.75 L120.41,399.03 L120.8,399.3 L121.19,399.54 L121.58,399.76 L121.98,399.95 L122.37,400.12 L122.76,400.26 L123.16,400.37 L123.55,400.48 L123.94,400.58 L124.34,400.67 L124.73,400.76 L125.12,400.84 L125.51,400.92 L125.91,400.98 L126.3,401.04 L126.69,401.08 L127.09,401.11 L127.48,401.12 L127.87,401.13 L128.27,401.14 L128.66,401.15 L129.05,401.16 L129.44,401.17 L129.84,401.18 L130.23,401.19 L130.62,401.19 L131.02,401.2 L131.41,401.21 L131.8,401.21 L132.2,401.22 L132.59,401.23 L132.98,401.23 L133.38,401.24 L133.77,401.24 L134.16,401.25 L134.55,401.25 L134.95,401.26 L135.34,401.26 L135.73,401.27 L136.13,401.27 L136.52,401.27 L136.91,401.28 L137.31,401.28 L137.7,401.28 L138.09,401.28 L138.48,401.29 L138.88,401.29 L139.27,401.29 L139.66,401.29 L140.06,401.29 L140.45,401.3 L140.84,401.3 L141.24,401.3 L141.63,401.3 L142.02,401.3 L142.41,401.3 L142.81,401.3 L143.2,401.3 L143.2,401.3 Z" fill="#cf3a40"/>
<path d="M64.6,401.3 L64.6,401.3 L64.99,401.27 L65.39,401.21 L65.78,401.12 L66.17,401 L66.56,400.82 L66.96,400.58 L67.35,400.29 L67.74,399.96 L68.14,399.59 L68.53,399.2 L68.92,398.78 L69.32,398.35 L69.71,397.9 L70.1,397.46 L70.49,396.99 L70.89,396.48 L71.28,395.93 L71.67,395.33 L72.07,394.7 L72.46,394.02 L72.85,393.32 L73.25,392.6 L73.64,391.84 L74.03,391.07 L74.42,390.29 L74.82,389.48 L75.21,388.61 L75.6,387.69 L76,386.71 L76.39,385.71 L76.78,384.67 L77.18,383.63 L77.57,382.57 L77.96,381.51 L78.35,380.41 L78.75,379.28 L79.14,378.13 L79.53,376.97 L79.93,375.79 L80.32,374.6 L80.71,373.41 L81.11,372.2 L81.5,370.95 L81.89,369.69 L82.28,368.43 L82.68,367.17 L83.07,365.93 L83.46,364.73 L83.86,363.55 L84.25,362.37 L84.64,361.19 L85.04,360.04 L85.43,358.91 L85.82,357.81 L86.22,356.74 L86.61,355.72 L87,354.72 L87.39,353.74 L87.79,352.77 L88.18,351.85 L88.57,350.96 L88.97,350.14 L89.36,349.38 L89.75,348.67 L90.14,347.98 L90.54,347.31 L90.93,346.68 L91.32,346.1 L91.72,345.58 L92.11,345.13 L92.5,344.76 L92.9,344.42 L93.29,344.08 L93.68,343.76 L94.07,343.45 L94.47,343.18 L94.86,342.95 L95.25,342.77 L95.65,342.65 L96.04,342.6 L96.43,342.61 L96.83,342.67 L97.22,342.75 L97.61,342.87 L98,343 L98.4,343.16 L98.79,343.32 L99.18,343.48 L99.58,343.66 L99.97,343.88 L100.36,344.13 L100.76,344.44 L101.15,344.79 L101.54,345.22 L101.94,345.8 L102.33,346.52 L102.72,347.37 L103.11,348.33 L103.51,349.38 L103.9,350.57 L104.29,352.11 L104.69,353.94 L105.08,355.97 L105.47,358.1 L105.86,360.26 L106.26,362.34 L106.65,364.26 L107.04,366 L107.44,367.71 L107.83,369.39 L108.22,371.04 L108.62,372.65 L109.01,374.22 L109.4,375.75 L109.79,377.24 L110.19,378.73 L110.58,380.22 L110.97,381.68 L111.37,383.08 L111.76,384.42 L112.15,385.65 L112.55,386.77 L112.94,387.79 L113.33,388.78 L113.72,389.75 L114.12,390.68 L114.51,391.57 L114.9,392.42 L115.3,393.21 L115.69,393.94 L116.08,394.61 L116.48,395.2 L116.87,395.72 L117.26,396.16 L117.66,396.58 L118.05,396.99 L118.44,397.38 L118.83,397.75 L119.23,398.1 L119.62,398.43 L120.01,398.75 L120.41,399.03 L120.8,399.3 L121.19,399.54 L121.58,399.76 L121.98,399.95 L122.37,400.12 L122.76,400.26 L123.16,400.37 L123.55,400.48 L123.94,400.58 L124.34,400.67 L124.73,400.76 L125.12,400.84 L125.51,400.92 L125.91,400.98 L126.3,401.04 L126.69,401.08 L127.09,401.11 L127.48,401.12 L127.87,401.13 L128.27,401.14 L128.66,401.15 L129.05,401.16 L129.44,401.17 L129.84,401.18 L130.23,401.19 L130.62,401.19 L131.02,401.2 L131.41,401.21 L131.8,401.21 L132.2,401.22 L132.59,401.23 L132.98,401.23 L133.38,401.24 L133.77,401.24 L134.16,401.25 L134.55,401.25 L134.95,401.26 L135.34,401.26 L135.73,401.27 L136.13,401.27 L136.52,401.27 L136.91,401.28 L137.31,401.28 L137.7,401.28 L138.09,401.28 L138.48,401.29 L138.88,401.29 L139.27,401.29 L139.66,401.29 L140.06,401.29 L140.45,401.3 L140.84,401.3 L141.24,401.3 L141.63,401.3 L142.02,401.3 L142.41,401.3 L142.81,401.3 L143.2,401.3 L143.2,401.3 Z" fill="none" stroke="#1c1a1a" stroke-width="1.1" stroke-linejoin="round"/>
<path d="M64.6,401.3 L64.6,401.3 L64.99,401.26 L65.39,401.2 L65.78,401.12 L66.17,401.02 L66.56,400.88 L66.96,400.7 L67.35,400.49 L67.74,400.25 L68.14,399.99 L68.53,399.7 L68.92,399.4 L69.32,399.09 L69.71,398.76 L70.1,398.43 L70.49,398.08 L70.89,397.68 L71.28,397.24 L71.67,396.75 L72.07,396.24 L72.46,395.69 L72.85,395.13 L73.25,394.54 L73.64,393.95 L74.03,393.34 L74.42,392.74 L74.82,392.12 L75.21,391.47 L75.6,390.79 L76,390.08 L76.39,389.35 L76.78,388.63 L77.18,387.91 L77.57,387.21 L77.96,386.53 L78.35,385.86 L78.75,385.19 L79.14,384.52 L79.53,383.85 L79.93,383.18 L80.32,382.49 L80.71,381.79 L81.11,381.07 L81.5,380.33 L81.89,379.58 L82.28,378.82 L82.68,378.06 L83.07,377.29 L83.46,376.53 L83.86,375.78 L84.25,375.03 L84.64,374.3 L85.04,373.59 L85.43,372.91 L85.82,372.25 L86.22,371.61 L86.61,370.98 L87,370.35 L87.39,369.71 L87.79,369.06 L88.18,368.38 L88.57,367.67 L88.97,366.92 L89.36,366.13 L89.75,365.32 L90.14,364.48 L90.54,363.62 L90.93,362.73 L91.32,361.83 L91.72,360.9 L92.11,359.93 L92.5,358.92 L92.9,357.87 L93.29,356.81 L93.68,355.75 L94.07,354.7 L94.47,353.68 L94.86,352.68 L95.25,351.65 L95.65,350.61 L96.04,349.57 L96.43,348.58 L96.83,347.65 L97.22,346.83 L97.61,346.12 L98,345.47 L98.4,344.82 L98.79,344.18 L99.18,343.61 L99.58,343.14 L99.97,342.79 L100.36,342.62 L100.76,342.64 L101.15,342.87 L101.54,343.26 L101.94,343.79 L102.33,344.42 L102.72,345.11 L103.11,345.84 L103.51,346.55 L103.9,347.25 L104.29,348.04 L104.69,348.92 L105.08,349.86 L105.47,350.86 L105.86,351.89 L106.26,352.95 L106.65,354.01 L107.04,355.09 L107.44,356.23 L107.83,357.42 L108.22,358.63 L108.62,359.86 L109.01,361.1 L109.4,362.31 L109.79,363.51 L110.19,364.78 L110.58,366.1 L110.97,367.43 L111.37,368.72 L111.76,369.91 L112.15,370.95 L112.55,371.81 L112.94,372.49 L113.33,373.11 L113.72,373.69 L114.12,374.22 L114.51,374.7 L114.9,375.15 L115.3,375.56 L115.69,375.93 L116.08,376.28 L116.48,376.59 L116.87,376.86 L117.26,377.09 L117.66,377.3 L118.05,377.49 L118.44,377.68 L118.83,377.88 L119.23,378.1 L119.62,378.35 L120.01,378.64 L120.41,378.99 L120.8,379.4 L121.19,379.85 L121.58,380.36 L121.98,380.9 L122.37,381.48 L122.76,382.09 L123.16,382.74 L123.55,383.51 L123.94,384.36 L124.34,385.27 L124.73,386.21 L125.12,387.17 L125.51,388.09 L125.91,388.97 L126.3,389.85 L126.69,390.77 L127.09,391.7 L127.48,392.61 L127.87,393.46 L128.27,394.23 L128.66,394.88 L129.05,395.39 L129.44,395.85 L129.84,396.29 L130.23,396.7 L130.62,397.09 L131.02,397.44 L131.41,397.77 L131.8,398.07 L132.2,398.33 L132.59,398.56 L132.98,398.76 L133.38,398.92 L133.77,399.07 L134.16,399.2 L134.55,399.33 L134.95,399.44 L135.34,399.55 L135.73,399.65 L136.13,399.75 L136.52,399.84 L136.91,399.92 L137.31,400 L137.7,400.07 L138.09,400.14 L138.48,400.2 L138.88,400.26 L139.27,400.31 L139.66,400.37 L140.06,400.42 L140.45,400.47 L140.84,400.51 L141.24,400.56 L141.63,400.6 L142.02,400.63 L142.41,400.67 L142.81,400.69 L143.2,400.71 L143.2,401.3 Z" fill="rgba(231,137,37,0.72)"/>
<path d="M64.6,401.3 L64.6,401.3 L64.99,401.26 L65.39,401.2 L65.78,401.12 L66.17,401.02 L66.56,400.88 L66.96,400.7 L67.35,400.49 L67.74,400.25 L68.14,399.99 L68.53,399.7 L68.92,399.4 L69.32,399.09 L69.71,398.76 L70.1,398.43 L70.49,398.08 L70.89,397.68 L71.28,397.24 L71.67,396.75 L72.07,396.24 L72.46,395.69 L72.85,395.13 L73.25,394.54 L73.64,393.95 L74.03,393.34 L74.42,392.74 L74.82,392.12 L75.21,391.47 L75.6,390.79 L76,390.08 L76.39,389.35 L76.78,388.63 L77.18,387.91 L77.57,387.21 L77.96,386.53 L78.35,385.86 L78.75,385.19 L79.14,384.52 L79.53,383.85 L79.93,383.18 L80.32,382.49 L80.71,381.79 L81.11,381.07 L81.5,380.33 L81.89,379.58 L82.28,378.82 L82.68,378.06 L83.07,377.29 L83.46,376.53 L83.86,375.78 L84.25,375.03 L84.64,374.3 L85.04,373.59 L85.43,372.91 L85.82,372.25 L86.22,371.61 L86.61,370.98 L87,370.35 L87.39,369.71 L87.79,369.06 L88.18,368.38 L88.57,367.67 L88.97,366.92 L89.36,366.13 L89.75,365.32 L90.14,364.48 L90.54,363.62 L90.93,362.73 L91.32,361.83 L91.72,360.9 L92.11,359.93 L92.5,358.92 L92.9,357.87 L93.29,356.81 L93.68,355.75 L94.07,354.7 L94.47,353.68 L94.86,352.68 L95.25,351.65 L95.65,350.61 L96.04,349.57 L96.43,348.58 L96.83,347.65 L97.22,346.83 L97.61,346.12 L98,345.47 L98.4,344.82 L98.79,344.18 L99.18,343.61 L99.58,343.14 L99.97,342.79 L100.36,342.62 L100.76,342.64 L101.15,342.87 L101.54,343.26 L101.94,343.79 L102.33,344.42 L102.72,345.11 L103.11,345.84 L103.51,346.55 L103.9,347.25 L104.29,348.04 L104.69,348.92 L105.08,349.86 L105.47,350.86 L105.86,351.89 L106.26,352.95 L106.65,354.01 L107.04,355.09 L107.44,356.23 L107.83,357.42 L108.22,358.63 L108.62,359.86 L109.01,361.1 L109.4,362.31 L109.79,363.51 L110.19,364.78 L110.58,366.1 L110.97,367.43 L111.37,368.72 L111.76,369.91 L112.15,370.95 L112.55,371.81 L112.94,372.49 L113.33,373.11 L113.72,373.69 L114.12,374.22 L114.51,374.7 L114.9,375.15 L115.3,375.56 L115.69,375.93 L116.08,376.28 L116.48,376.59 L116.87,376.86 L117.26,377.09 L117.66,377.3 L118.05,377.49 L118.44,377.68 L118.83,377.88 L119.23,378.1 L119.62,378.35 L120.01,378.64 L120.41,378.99 L120.8,379.4 L121.19,379.85 L121.58,380.36 L121.98,380.9 L122.37,381.48 L122.76,382.09 L123.16,382.74 L123.55,383.51 L123.94,384.36 L124.34,385.27 L124.73,386.21 L125.12,387.17 L125.51,388.09 L125.91,388.97 L126.3,389.85 L126.69,390.77 L127.09,391.7 L127.48,392.61 L127.87,393.46 L128.27,394.23 L128.66,394.88 L129.05,395.39 L129.44,395.85 L129.84,396.29 L130.23,396.7 L130.62,397.09 L131.02,397.44 L131.41,397.77 L131.8,398.07 L132.2,398.33 L132.59,398.56 L132.98,398.76 L133.38,398.92 L133.77,399.07 L134.16,399.2 L134.55,399.33 L134.95,399.44 L135.34,399.55 L135.73,399.65 L136.13,399.75 L136.52,399.84 L136.91,399.92 L137.31,400 L137.7,400.07 L138.09,400.14 L138.48,400.2 L138.88,400.26 L139.27,400.31 L139.66,400.37 L140.06,400.42 L140.45,400.47 L140.84,400.51 L141.24,400.56 L141.63,400.6 L142.02,400.63 L142.41,400.67 L142.81,400.69 L143.2,400.71 L143.2,401.3 Z" fill="none" stroke="#1c1a1a" stroke-width="1.1" stroke-linejoin="round"/>
<line x1="61.25" y1="340.9" x2="61.25" y2="404.9" stroke="#1e1e1e" stroke-width="1.35"/>
<line x1="60.6" y1="404.3" x2="146.4" y2="404.3" stroke="#1e1e1e" stroke-width="1.35"/>
<line x1="58" y1="342.6" x2="61.4" y2="342.6" stroke="#1e1e1e" stroke-width="1.1"/>
<text class="n" transform="translate(54.4,345.5) scale(0.895,1)" font-size="9.5" text-anchor="end" fill="#2e2e2e">1.00</text>
<line x1="58" y1="357.38" x2="61.4" y2="357.38" stroke="#1e1e1e" stroke-width="1.1"/>
<text class="n" transform="translate(54.4,360.27) scale(0.895,1)" font-size="9.5" text-anchor="end" fill="#2e2e2e">0.75</text>
<line x1="58" y1="372.15" x2="61.4" y2="372.15" stroke="#1e1e1e" stroke-width="1.1"/>
<text class="n" transform="translate(54.4,375.05) scale(0.895,1)" font-size="9.5" text-anchor="end" fill="#2e2e2e">0.50</text>
<line x1="58" y1="386.93" x2="61.4" y2="386.93" stroke="#1e1e1e" stroke-width="1.1"/>
<text class="n" transform="translate(54.4,389.82) scale(0.895,1)" font-size="9.5" text-anchor="end" fill="#2e2e2e">0.25</text>
<line x1="58" y1="401.7" x2="61.4" y2="401.7" stroke="#1e1e1e" stroke-width="1.1"/>
<text class="n" transform="translate(54.4,404.6) scale(0.895,1)" font-size="9.5" text-anchor="end" fill="#2e2e2e">0.00</text>
<line x1="64.6" y1="404.3" x2="64.6" y2="407.3" stroke="#1e1e1e" stroke-width="1.1"/>
<text class="n" transform="translate(64.6,419) scale(0.895,1)" font-size="9.5" text-anchor="middle" fill="#2e2e2e">0</text>
<line x1="84.25" y1="404.3" x2="84.25" y2="407.3" stroke="#1e1e1e" stroke-width="1.1"/>
<text class="n" transform="translate(84.25,419) scale(0.895,1)" font-size="9.5" text-anchor="middle" fill="#2e2e2e">25</text>
<line x1="103.9" y1="404.3" x2="103.9" y2="407.3" stroke="#1e1e1e" stroke-width="1.1"/>
<text class="n" transform="translate(103.9,419) scale(0.895,1)" font-size="9.5" text-anchor="middle" fill="#2e2e2e">50</text>
<line x1="123.55" y1="404.3" x2="123.55" y2="407.3" stroke="#1e1e1e" stroke-width="1.1"/>
<text class="n" transform="translate(123.55,419) scale(0.895,1)" font-size="9.5" text-anchor="middle" fill="#2e2e2e">75</text>
<line x1="143.2" y1="404.3" x2="143.2" y2="407.3" stroke="#1e1e1e" stroke-width="1.1"/>
<text class="n" transform="translate(143.2,419) scale(0.895,1)" font-size="9.5" text-anchor="middle" fill="#2e2e2e">100</text>
<text class="n" x="104.15" y="433.4" font-size="10" text-anchor="middle" textLength="87.1" lengthAdjust="spacingAndGlyphs" fill="#2e2e2e">Age at diagnosis (years)</text>
<g transform="translate(31,318.9) rotate(-90)"><text class="n" x="0" y="0" font-size="10" text-anchor="middle" textLength="27.5" lengthAdjust="spacingAndGlyphs" fill="#2e2e2e">Density</text></g>
<line x1="223.1" y1="249.4" x2="223.1" y2="405.1" stroke="#1e1e1e" stroke-width="1.35"/>
<line x1="222.45" y1="404.5" x2="510.5" y2="404.5" stroke="#1e1e1e" stroke-width="1.35"/>
<line x1="219.9" y1="263.6" x2="222.9" y2="263.6" stroke="#1e1e1e" stroke-width="1.1"/>
<text class="n" x="216.6" y="266.6" font-size="8.5" text-anchor="end" textLength="27.7" lengthAdjust="spacingAndGlyphs" font-style="italic" fill="#2e2e2e">DDX41</text>
<line x1="219.9" y1="288.8" x2="222.9" y2="288.8" stroke="#1e1e1e" stroke-width="1.1"/>
<text class="n" x="216.6" y="291.8" font-size="8.5" text-anchor="end" textLength="43.5" lengthAdjust="spacingAndGlyphs" font-style="italic" fill="#2e2e2e">RASopathy</text>
<line x1="219.9" y1="313.8" x2="222.9" y2="313.8" stroke="#1e1e1e" stroke-width="1.1"/>
<text class="n" x="216.6" y="316.8" font-size="8.5" text-anchor="end" textLength="17.7" lengthAdjust="spacingAndGlyphs" font-style="italic" fill="#2e2e2e">SCN</text>
<line x1="219.9" y1="338.9" x2="222.9" y2="338.9" stroke="#1e1e1e" stroke-width="1.1"/>
<text class="n" x="216.6" y="341.9" font-size="8.5" text-anchor="end" textLength="11" lengthAdjust="spacingAndGlyphs" font-style="italic" fill="#2e2e2e">FA</text>
<line x1="219.9" y1="363.9" x2="222.9" y2="363.9" stroke="#1e1e1e" stroke-width="1.1"/>
<text class="n" x="216.6" y="366.9" font-size="8.5" text-anchor="end" textLength="17.8" lengthAdjust="spacingAndGlyphs" font-style="italic" fill="#2e2e2e">DBA</text>
<line x1="219.9" y1="388.9" x2="222.9" y2="388.9" stroke="#1e1e1e" stroke-width="1.1"/>
<text class="n" x="216.6" y="391.9" font-size="8.5" text-anchor="end" textLength="27.5" lengthAdjust="spacingAndGlyphs" font-style="italic" fill="#2e2e2e">GATA2</text>
<line x1="236.4" y1="404.5" x2="236.4" y2="407.5" stroke="#1e1e1e" stroke-width="1.1"/>
<text class="n" transform="translate(236.4,419) scale(0.895,1)" font-size="9.5" text-anchor="middle" fill="#2e2e2e">0</text>
<line x1="301.55" y1="404.5" x2="301.55" y2="407.5" stroke="#1e1e1e" stroke-width="1.1"/>
<text class="n" transform="translate(301.55,419) scale(0.895,1)" font-size="9.5" text-anchor="middle" fill="#2e2e2e">25</text>
<line x1="366.7" y1="404.5" x2="366.7" y2="407.5" stroke="#1e1e1e" stroke-width="1.1"/>
<text class="n" transform="translate(366.7,419) scale(0.895,1)" font-size="9.5" text-anchor="middle" fill="#2e2e2e">50</text>
<line x1="431.85" y1="404.5" x2="431.85" y2="407.5" stroke="#1e1e1e" stroke-width="1.1"/>
<text class="n" transform="translate(431.85,419) scale(0.895,1)" font-size="9.5" text-anchor="middle" fill="#2e2e2e">75</text>
<line x1="497" y1="404.5" x2="497" y2="407.5" stroke="#1e1e1e" stroke-width="1.1"/>
<text class="n" transform="translate(497,419) scale(0.895,1)" font-size="9.5" text-anchor="middle" fill="#2e2e2e">100</text>
<text class="n" x="366.7" y="433.9" font-size="10" text-anchor="middle" textLength="87.4" lengthAdjust="spacingAndGlyphs" fill="#2e2e2e">Age at diagnosis (years)</text>
<path d="M328.3,264 L328.3,264 L329.09,264 L329.88,263.99 L330.67,263.99 L331.45,263.97 L332.24,263.96 L333.03,263.94 L333.82,263.93 L334.61,263.9 L335.4,263.88 L336.18,263.86 L336.97,263.83 L337.76,263.8 L338.55,263.77 L339.34,263.73 L340.13,263.7 L340.92,263.66 L341.7,263.63 L342.49,263.59 L343.28,263.55 L344.07,263.51 L344.86,263.47 L345.65,263.43 L346.43,263.38 L347.22,263.34 L348.01,263.3 L348.8,263.25 L349.59,263.21 L350.38,263.15 L351.16,263.1 L351.95,263.04 L352.74,262.97 L353.53,262.9 L354.32,262.83 L355.11,262.75 L355.9,262.67 L356.68,262.59 L357.47,262.5 L358.26,262.4 L359.05,262.3 L359.84,262.2 L360.63,262.1 L361.41,261.98 L362.2,261.87 L362.99,261.73 L363.78,261.58 L364.57,261.4 L365.36,261.2 L366.15,261 L366.93,260.78 L367.72,260.56 L368.51,260.34 L369.3,260.11 L370.09,259.89 L370.88,259.68 L371.66,259.48 L372.45,259.27 L373.24,259.06 L374.03,258.85 L374.82,258.64 L375.61,258.42 L376.39,258.21 L377.18,257.99 L377.97,257.78 L378.76,257.57 L379.55,257.37 L380.34,257.17 L381.13,256.97 L381.91,256.78 L382.7,256.6 L383.49,256.42 L384.28,256.24 L385.07,256.05 L385.86,255.87 L386.64,255.68 L387.43,255.5 L388.22,255.33 L389.01,255.16 L389.8,255 L390.59,254.84 L391.38,254.7 L392.16,254.57 L392.95,254.46 L393.74,254.36 L394.53,254.28 L395.32,254.2 L396.11,254.12 L396.89,254.05 L397.68,253.99 L398.47,253.94 L399.26,253.91 L400.05,253.9 L400.84,253.92 L401.63,253.97 L402.41,254.04 L403.2,254.13 L403.99,254.25 L404.78,254.38 L405.57,254.52 L406.36,254.67 L407.14,254.82 L407.93,254.97 L408.72,255.13 L409.51,255.31 L410.3,255.52 L411.09,255.75 L411.87,256 L412.66,256.27 L413.45,256.55 L414.24,256.83 L415.03,257.12 L415.82,257.42 L416.61,257.71 L417.39,258 L418.18,258.3 L418.97,258.63 L419.76,258.98 L420.55,259.34 L421.34,259.7 L422.12,260.03 L422.91,260.35 L423.7,260.62 L424.49,260.85 L425.28,261.06 L426.07,261.26 L426.86,261.46 L427.64,261.64 L428.43,261.8 L429.22,261.94 L430.01,262.06 L430.8,262.16 L431.59,262.23 L432.37,262.3 L433.16,262.36 L433.95,262.41 L434.74,262.46 L435.53,262.51 L436.32,262.55 L437.11,262.59 L437.89,262.63 L438.68,262.67 L439.47,262.7 L440.26,262.73 L441.05,262.76 L441.84,262.79 L442.62,262.82 L443.41,262.85 L444.2,262.87 L444.99,262.9 L445.78,262.93 L446.57,262.95 L447.35,262.98 L448.14,263 L448.93,263.02 L449.72,263.04 L450.51,263.06 L451.3,263.08 L452.09,263.1 L452.87,263.12 L453.66,263.14 L454.45,263.16 L455.24,263.17 L456.03,263.19 L456.82,263.21 L457.6,263.22 L458.39,263.24 L459.18,263.26 L459.97,263.28 L460.76,263.29 L461.55,263.31 L462.34,263.33 L463.12,263.35 L463.91,263.37 L464.7,263.39 L465.49,263.41 L466.28,263.43 L467.07,263.46 L467.85,263.48 L468.64,263.5 L469.43,263.52 L470.22,263.55 L471.01,263.57 L471.8,263.59 L472.58,263.61 L473.37,263.64 L474.16,263.66 L474.95,263.68 L475.74,263.71 L476.53,263.73 L477.32,263.75 L478.1,263.78 L478.89,263.8 L479.68,263.83 L480.47,263.85 L481.26,263.88 L482.05,263.9 L482.83,263.92 L483.62,263.95 L484.41,263.97 L485.2,264 L485.2,264 L484.41,264.03 L483.62,264.05 L482.83,264.08 L482.05,264.1 L481.26,264.12 L480.47,264.15 L479.68,264.17 L478.89,264.2 L478.1,264.22 L477.32,264.25 L476.53,264.27 L475.74,264.29 L474.95,264.32 L474.16,264.34 L473.37,264.36 L472.58,264.39 L471.8,264.41 L471.01,264.43 L470.22,264.45 L469.43,264.48 L468.64,264.5 L467.85,264.52 L467.07,264.54 L466.28,264.57 L465.49,264.59 L464.7,264.61 L463.91,264.63 L463.12,264.65 L462.34,264.67 L461.55,264.69 L460.76,264.71 L459.97,264.72 L459.18,264.74 L458.39,264.76 L457.6,264.78 L456.82,264.79 L456.03,264.81 L455.24,264.83 L454.45,264.84 L453.66,264.86 L452.87,264.88 L452.09,264.9 L451.3,264.92 L450.51,264.94 L449.72,264.96 L448.93,264.98 L448.14,265 L447.35,265.02 L446.57,265.05 L445.78,265.07 L444.99,265.1 L444.2,265.13 L443.41,265.15 L442.62,265.18 L441.84,265.21 L441.05,265.24 L440.26,265.27 L439.47,265.3 L438.68,265.33 L437.89,265.37 L437.11,265.41 L436.32,265.45 L435.53,265.49 L434.74,265.54 L433.95,265.59 L433.16,265.64 L432.37,265.7 L431.59,265.77 L430.8,265.84 L430.01,265.94 L429.22,266.06 L428.43,266.2 L427.64,266.36 L426.86,266.54 L426.07,266.74 L425.28,266.94 L424.49,267.15 L423.7,267.38 L422.91,267.65 L422.12,267.97 L421.34,268.3 L420.55,268.66 L419.76,269.02 L418.97,269.37 L418.18,269.7 L417.39,270 L416.61,270.29 L415.82,270.58 L415.03,270.88 L414.24,271.17 L413.45,271.45 L412.66,271.73 L411.87,272 L411.09,272.25 L410.3,272.48 L409.51,272.69 L408.72,272.87 L407.93,273.03 L407.14,273.18 L406.36,273.33 L405.57,273.48 L404.78,273.62 L403.99,273.75 L403.2,273.87 L402.41,273.96 L401.63,274.03 L400.84,274.08 L400.05,274.1 L399.26,274.09 L398.47,274.06 L397.68,274.01 L396.89,273.95 L396.11,273.88 L395.32,273.8 L394.53,273.72 L393.74,273.64 L392.95,273.54 L392.16,273.43 L391.38,273.3 L390.59,273.16 L389.8,273 L389.01,272.84 L388.22,272.67 L387.43,272.5 L386.64,272.32 L385.86,272.13 L385.07,271.95 L384.28,271.76 L383.49,271.58 L382.7,271.4 L381.91,271.22 L381.13,271.03 L380.34,270.83 L379.55,270.63 L378.76,270.43 L377.97,270.22 L377.18,270.01 L376.39,269.79 L375.61,269.58 L374.82,269.36 L374.03,269.15 L373.24,268.94 L372.45,268.73 L371.66,268.52 L370.88,268.32 L370.09,268.11 L369.3,267.89 L368.51,267.66 L367.72,267.44 L366.93,267.22 L366.15,267 L365.36,266.8 L364.57,266.6 L363.78,266.42 L362.99,266.27 L362.2,266.13 L361.41,266.02 L360.63,265.9 L359.84,265.8 L359.05,265.7 L358.26,265.6 L357.47,265.5 L356.68,265.41 L355.9,265.33 L355.11,265.25 L354.32,265.17 L353.53,265.1 L352.74,265.03 L351.95,264.96 L351.16,264.9 L350.38,264.85 L349.59,264.79 L348.8,264.75 L348.01,264.7 L347.22,264.66 L346.43,264.62 L345.65,264.57 L344.86,264.53 L344.07,264.49 L343.28,264.45 L342.49,264.41 L341.7,264.37 L340.92,264.34 L340.13,264.3 L339.34,264.27 L338.55,264.23 L337.76,264.2 L336.97,264.17 L336.18,264.14 L335.4,264.12 L334.61,264.1 L333.82,264.07 L333.03,264.06 L332.24,264.04 L331.45,264.03 L330.67,264.01 L329.88,264.01 L329.09,264 L328.3,264 Z" fill="#dcdddd" stroke="#7a7a7a" stroke-width="0.9" stroke-linejoin="round"/>
<circle cx="364.1" cy="264" r="2.6" fill="#f4c6d2" fill-opacity="0.75"/>
<circle cx="382.3" cy="264" r="2.6" fill="#f4c6d2" fill-opacity="0.75"/>
<circle cx="385.2" cy="264" r="2.6" fill="#f4c6d2" fill-opacity="0.75"/>
<circle cx="389.4" cy="264" r="2.6" fill="#f4c6d2" fill-opacity="0.75"/>
<circle cx="392.5" cy="264" r="2.6" fill="#f4c6d2" fill-opacity="0.75"/>
<circle cx="397.2" cy="264" r="2.6" fill="#f4c6d2" fill-opacity="0.75"/>
<circle cx="402.6" cy="264" r="2.6" fill="#f4c6d2" fill-opacity="0.75"/>
<circle cx="405.1" cy="264" r="2.6" fill="#f4c6d2" fill-opacity="0.75"/>
<circle cx="408.2" cy="264" r="2.6" fill="#f4c6d2" fill-opacity="0.75"/>
<circle cx="426.5" cy="264" r="2.6" fill="#f4c6d2" fill-opacity="0.75"/>
<circle cx="450" cy="264" r="2.6" fill="#f4c6d2" fill-opacity="0.75"/>
<line x1="400.5" y1="254.1" x2="400.5" y2="273.9" stroke="#1a1a1a" stroke-width="1.2" stroke-dasharray="3.2,2.2"/>
<circle cx="364.1" cy="264" r="1.3" fill="#8c1a2a"/>
<circle cx="382.3" cy="264" r="1.3" fill="#8c1a2a"/>
<circle cx="385.2" cy="264" r="1.3" fill="#8c1a2a"/>
<circle cx="389.4" cy="264" r="1.3" fill="#8c1a2a"/>
<circle cx="392.5" cy="264" r="1.3" fill="#8c1a2a"/>
<circle cx="397.2" cy="264" r="1.3" fill="#8c1a2a"/>
<circle cx="402.6" cy="264" r="1.3" fill="#8c1a2a"/>
<circle cx="405.1" cy="264" r="1.3" fill="#8c1a2a"/>
<circle cx="408.2" cy="264" r="1.3" fill="#8c1a2a"/>
<circle cx="426.5" cy="264" r="1.3" fill="#8c1a2a"/>
<circle cx="450" cy="264" r="1.3" fill="#8c1a2a"/>
<path d="M316.1,289.2 L316.1,289.2 L316.46,289.2 L316.83,289.19 L317.19,289.19 L317.56,289.17 L317.92,289.16 L318.29,289.14 L318.65,289.12 L319.02,289.1 L319.38,289.07 L319.75,289.05 L320.11,289.02 L320.48,288.98 L320.84,288.95 L321.21,288.91 L321.57,288.87 L321.94,288.83 L322.3,288.78 L322.67,288.73 L323.03,288.69 L323.4,288.64 L323.76,288.58 L324.13,288.53 L324.49,288.47 L324.86,288.42 L325.22,288.36 L325.59,288.3 L325.95,288.24 L326.32,288.17 L326.68,288.11 L327.04,288.05 L327.41,287.98 L327.77,287.9 L328.14,287.8 L328.5,287.68 L328.87,287.54 L329.23,287.39 L329.6,287.23 L329.96,287.06 L330.33,286.87 L330.69,286.68 L331.06,286.48 L331.42,286.27 L331.79,286.06 L332.15,285.84 L332.52,285.62 L332.88,285.4 L333.25,285.19 L333.61,284.97 L333.98,284.76 L334.34,284.55 L334.71,284.35 L335.07,284.15 L335.44,283.97 L335.8,283.79 L336.17,283.63 L336.53,283.46 L336.89,283.29 L337.26,283.12 L337.62,282.95 L337.99,282.77 L338.35,282.6 L338.72,282.43 L339.08,282.26 L339.45,282.08 L339.81,281.92 L340.18,281.75 L340.54,281.59 L340.91,281.43 L341.27,281.28 L341.64,281.13 L342,280.99 L342.37,280.85 L342.73,280.72 L343.1,280.6 L343.46,280.49 L343.83,280.39 L344.19,280.29 L344.56,280.21 L344.92,280.13 L345.29,280.06 L345.65,279.98 L346.02,279.9 L346.38,279.83 L346.75,279.76 L347.11,279.69 L347.47,279.62 L347.84,279.55 L348.2,279.49 L348.57,279.44 L348.93,279.39 L349.3,279.34 L349.66,279.3 L350.03,279.27 L350.39,279.24 L350.76,279.22 L351.12,279.2 L351.49,279.2 L351.85,279.2 L352.22,279.22 L352.58,279.25 L352.95,279.28 L353.31,279.32 L353.68,279.37 L354.04,279.43 L354.41,279.5 L354.77,279.57 L355.14,279.65 L355.5,279.74 L355.87,279.83 L356.23,279.92 L356.6,280.02 L356.96,280.12 L357.33,280.23 L357.69,280.33 L358.05,280.44 L358.42,280.56 L358.78,280.67 L359.15,280.78 L359.51,280.89 L359.88,281 L360.24,281.11 L360.61,281.23 L360.97,281.36 L361.34,281.51 L361.7,281.66 L362.07,281.82 L362.43,282 L362.8,282.18 L363.16,282.37 L363.53,282.57 L363.89,282.77 L364.26,282.97 L364.62,283.18 L364.99,283.4 L365.35,283.61 L365.72,283.82 L366.08,284.04 L366.45,284.25 L366.81,284.46 L367.18,284.67 L367.54,284.87 L367.91,285.07 L368.27,285.27 L368.63,285.45 L369,285.63 L369.36,285.8 L369.73,285.96 L370.09,286.11 L370.46,286.25 L370.82,286.38 L371.19,286.5 L371.55,286.63 L371.92,286.75 L372.28,286.88 L372.65,287 L373.01,287.11 L373.38,287.23 L373.74,287.34 L374.11,287.45 L374.47,287.55 L374.84,287.65 L375.2,287.74 L375.57,287.83 L375.93,287.91 L376.3,287.99 L376.66,288.06 L377.03,288.13 L377.39,288.18 L377.76,288.24 L378.12,288.29 L378.48,288.34 L378.85,288.39 L379.21,288.44 L379.58,288.48 L379.94,288.53 L380.31,288.58 L380.67,288.62 L381.04,288.67 L381.4,288.71 L381.77,288.75 L382.13,288.8 L382.5,288.84 L382.86,288.87 L383.23,288.91 L383.59,288.94 L383.96,288.98 L384.32,289.01 L384.69,289.04 L385.05,289.06 L385.42,289.09 L385.78,289.11 L386.15,289.13 L386.51,289.15 L386.88,289.16 L387.24,289.18 L387.61,289.19 L387.97,289.19 L388.34,289.2 L388.7,289.2 L388.7,289.2 L388.34,289.2 L387.97,289.21 L387.61,289.21 L387.24,289.22 L386.88,289.24 L386.51,289.25 L386.15,289.27 L385.78,289.29 L385.42,289.31 L385.05,289.34 L384.69,289.36 L384.32,289.39 L383.96,289.42 L383.59,289.46 L383.23,289.49 L382.86,289.53 L382.5,289.56 L382.13,289.6 L381.77,289.65 L381.4,289.69 L381.04,289.73 L380.67,289.78 L380.31,289.82 L379.94,289.87 L379.58,289.92 L379.21,289.96 L378.85,290.01 L378.48,290.06 L378.12,290.11 L377.76,290.16 L377.39,290.22 L377.03,290.27 L376.66,290.34 L376.3,290.41 L375.93,290.49 L375.57,290.57 L375.2,290.66 L374.84,290.75 L374.47,290.85 L374.11,290.95 L373.74,291.06 L373.38,291.17 L373.01,291.29 L372.65,291.4 L372.28,291.52 L371.92,291.65 L371.55,291.77 L371.19,291.9 L370.82,292.02 L370.46,292.15 L370.09,292.29 L369.73,292.44 L369.36,292.6 L369,292.77 L368.63,292.95 L368.27,293.13 L367.91,293.33 L367.54,293.53 L367.18,293.73 L366.81,293.94 L366.45,294.15 L366.08,294.36 L365.72,294.58 L365.35,294.79 L364.99,295 L364.62,295.22 L364.26,295.43 L363.89,295.63 L363.53,295.83 L363.16,296.03 L362.8,296.22 L362.43,296.4 L362.07,296.58 L361.7,296.74 L361.34,296.89 L360.97,297.04 L360.61,297.17 L360.24,297.29 L359.88,297.4 L359.51,297.51 L359.15,297.62 L358.78,297.73 L358.42,297.84 L358.05,297.96 L357.69,298.07 L357.33,298.17 L356.96,298.28 L356.6,298.38 L356.23,298.48 L355.87,298.57 L355.5,298.66 L355.14,298.75 L354.77,298.83 L354.41,298.9 L354.04,298.97 L353.68,299.03 L353.31,299.08 L352.95,299.12 L352.58,299.15 L352.22,299.18 L351.85,299.2 L351.49,299.2 L351.12,299.2 L350.76,299.18 L350.39,299.16 L350.03,299.13 L349.66,299.1 L349.3,299.06 L348.93,299.01 L348.57,298.96 L348.2,298.91 L347.84,298.85 L347.47,298.78 L347.11,298.71 L346.75,298.64 L346.38,298.57 L346.02,298.5 L345.65,298.42 L345.29,298.34 L344.92,298.27 L344.56,298.19 L344.19,298.11 L343.83,298.01 L343.46,297.91 L343.1,297.8 L342.73,297.68 L342.37,297.55 L342,297.41 L341.64,297.27 L341.27,297.12 L340.91,296.97 L340.54,296.81 L340.18,296.65 L339.81,296.48 L339.45,296.32 L339.08,296.14 L338.72,295.97 L338.35,295.8 L337.99,295.63 L337.62,295.45 L337.26,295.28 L336.89,295.11 L336.53,294.94 L336.17,294.77 L335.8,294.61 L335.44,294.43 L335.07,294.25 L334.71,294.05 L334.34,293.85 L333.98,293.64 L333.61,293.43 L333.25,293.21 L332.88,293 L332.52,292.78 L332.15,292.56 L331.79,292.34 L331.42,292.13 L331.06,291.92 L330.69,291.72 L330.33,291.53 L329.96,291.34 L329.6,291.17 L329.23,291.01 L328.87,290.86 L328.5,290.72 L328.14,290.6 L327.77,290.5 L327.41,290.42 L327.04,290.35 L326.68,290.29 L326.32,290.23 L325.95,290.16 L325.59,290.1 L325.22,290.04 L324.86,289.98 L324.49,289.93 L324.13,289.87 L323.76,289.82 L323.4,289.76 L323.03,289.71 L322.67,289.67 L322.3,289.62 L321.94,289.57 L321.57,289.53 L321.21,289.49 L320.84,289.45 L320.48,289.42 L320.11,289.38 L319.75,289.35 L319.38,289.33 L319.02,289.3 L318.65,289.28 L318.29,289.26 L317.92,289.24 L317.56,289.23 L317.19,289.21 L316.83,289.21 L316.46,289.2 L316.1,289.2 Z" fill="#dcdddd" stroke="#7a7a7a" stroke-width="0.9" stroke-linejoin="round"/>
<circle cx="350.5" cy="289.2" r="2.6" fill="#f4c6d2" fill-opacity="0.75"/>
<circle cx="353.7" cy="289.2" r="2.6" fill="#f4c6d2" fill-opacity="0.75"/>
<line x1="352.3" y1="279.3" x2="352.3" y2="299.1" stroke="#1a1a1a" stroke-width="1.2" stroke-dasharray="3.2,2.2"/>
<circle cx="350.5" cy="289.2" r="1.3" fill="#8c1a2a"/>
<circle cx="353.7" cy="289.2" r="1.3" fill="#8c1a2a"/>
<path d="M292.4,314.2 L292.4,314.2 L292.96,314.16 L293.51,314.12 L294.07,314.07 L294.63,314.01 L295.18,313.95 L295.74,313.88 L296.29,313.8 L296.85,313.72 L297.41,313.64 L297.96,313.55 L298.52,313.46 L299.08,313.36 L299.63,313.27 L300.19,313.17 L300.74,313.06 L301.3,312.94 L301.86,312.81 L302.41,312.67 L302.97,312.52 L303.53,312.37 L304.08,312.2 L304.64,312.04 L305.19,311.86 L305.75,311.68 L306.31,311.5 L306.86,311.31 L307.42,311.12 L307.98,310.92 L308.53,310.72 L309.09,310.53 L309.64,310.33 L310.2,310.13 L310.76,309.91 L311.31,309.67 L311.87,309.42 L312.43,309.16 L312.98,308.89 L313.54,308.61 L314.09,308.34 L314.65,308.06 L315.21,307.8 L315.76,307.54 L316.32,307.3 L316.88,307.08 L317.43,306.88 L317.99,306.7 L318.55,306.54 L319.1,306.37 L319.66,306.21 L320.21,306.04 L320.77,305.88 L321.33,305.72 L321.88,305.56 L322.44,305.42 L323,305.28 L323.55,305.15 L324.11,305.04 L324.66,304.94 L325.22,304.85 L325.78,304.78 L326.33,304.73 L326.89,304.71 L327.45,304.7 L328,304.71 L328.56,304.74 L329.11,304.77 L329.67,304.82 L330.23,304.88 L330.78,304.95 L331.34,305.03 L331.9,305.11 L332.45,305.21 L333.01,305.31 L333.56,305.41 L334.12,305.52 L334.68,305.63 L335.23,305.74 L335.79,305.86 L336.35,305.98 L336.9,306.14 L337.46,306.33 L338.02,306.55 L338.57,306.78 L339.13,307.03 L339.68,307.29 L340.24,307.54 L340.8,307.79 L341.35,308.03 L341.91,308.25 L342.47,308.44 L343.02,308.61 L343.58,308.75 L344.13,308.91 L344.69,309.06 L345.25,309.21 L345.8,309.34 L346.36,309.46 L346.92,309.56 L347.47,309.64 L348.03,309.69 L348.58,309.7 L349.14,309.68 L349.7,309.62 L350.25,309.54 L350.81,309.44 L351.37,309.32 L351.92,309.18 L352.48,309.03 L353.03,308.87 L353.59,308.71 L354.15,308.54 L354.7,308.38 L355.26,308.22 L355.82,308.04 L356.37,307.83 L356.93,307.6 L357.48,307.35 L358.04,307.1 L358.6,306.84 L359.15,306.59 L359.71,306.35 L360.27,306.13 L360.82,305.92 L361.38,305.75 L361.94,305.61 L362.49,305.5 L363.05,305.39 L363.6,305.27 L364.16,305.17 L364.72,305.06 L365.27,304.97 L365.83,304.88 L366.39,304.8 L366.94,304.73 L367.5,304.68 L368.05,304.64 L368.61,304.61 L369.17,304.6 L369.72,304.61 L370.28,304.64 L370.84,304.68 L371.39,304.75 L371.95,304.83 L372.5,304.92 L373.06,305.02 L373.62,305.13 L374.17,305.25 L374.73,305.38 L375.29,305.52 L375.84,305.66 L376.4,305.8 L376.95,305.94 L377.51,306.08 L378.07,306.22 L378.62,306.36 L379.18,306.53 L379.74,306.71 L380.29,306.9 L380.85,307.1 L381.41,307.32 L381.96,307.53 L382.52,307.76 L383.07,307.99 L383.63,308.22 L384.19,308.46 L384.74,308.69 L385.3,308.92 L385.86,309.14 L386.41,309.37 L386.97,309.6 L387.52,309.84 L388.08,310.09 L388.64,310.33 L389.19,310.58 L389.75,310.82 L390.31,311.06 L390.86,311.28 L391.42,311.49 L391.97,311.69 L392.53,311.88 L393.09,312.06 L393.64,312.24 L394.2,312.41 L394.76,312.58 L395.31,312.74 L395.87,312.9 L396.42,313.04 L396.98,313.18 L397.54,313.3 L398.09,313.42 L398.65,313.53 L399.21,313.63 L399.76,313.73 L400.32,313.83 L400.87,313.92 L401.43,314 L401.99,314.07 L402.54,314.14 L403.1,314.2 L403.1,314.2 L402.54,314.26 L401.99,314.33 L401.43,314.4 L400.87,314.48 L400.32,314.57 L399.76,314.67 L399.21,314.77 L398.65,314.87 L398.09,314.98 L397.54,315.1 L396.98,315.22 L396.42,315.36 L395.87,315.5 L395.31,315.66 L394.76,315.82 L394.2,315.99 L393.64,316.16 L393.09,316.34 L392.53,316.52 L391.97,316.71 L391.42,316.91 L390.86,317.12 L390.31,317.34 L389.75,317.58 L389.19,317.82 L388.64,318.07 L388.08,318.31 L387.52,318.56 L386.97,318.8 L386.41,319.03 L385.86,319.26 L385.3,319.48 L384.74,319.71 L384.19,319.94 L383.63,320.18 L383.07,320.41 L382.52,320.64 L381.96,320.87 L381.41,321.08 L380.85,321.3 L380.29,321.5 L379.74,321.69 L379.18,321.87 L378.62,322.04 L378.07,322.18 L377.51,322.32 L376.95,322.46 L376.4,322.6 L375.84,322.74 L375.29,322.88 L374.73,323.02 L374.17,323.15 L373.62,323.27 L373.06,323.38 L372.5,323.48 L371.95,323.57 L371.39,323.65 L370.84,323.72 L370.28,323.76 L369.72,323.79 L369.17,323.8 L368.61,323.79 L368.05,323.76 L367.5,323.72 L366.94,323.67 L366.39,323.6 L365.83,323.52 L365.27,323.43 L364.72,323.34 L364.16,323.23 L363.6,323.13 L363.05,323.01 L362.49,322.9 L361.94,322.79 L361.38,322.65 L360.82,322.48 L360.27,322.27 L359.71,322.05 L359.15,321.81 L358.6,321.56 L358.04,321.3 L357.48,321.05 L356.93,320.8 L356.37,320.57 L355.82,320.36 L355.26,320.18 L354.7,320.02 L354.15,319.86 L353.59,319.69 L353.03,319.53 L352.48,319.37 L351.92,319.22 L351.37,319.08 L350.81,318.96 L350.25,318.86 L349.7,318.78 L349.14,318.72 L348.58,318.7 L348.03,318.71 L347.47,318.76 L346.92,318.84 L346.36,318.94 L345.8,319.06 L345.25,319.19 L344.69,319.34 L344.13,319.49 L343.58,319.65 L343.02,319.79 L342.47,319.96 L341.91,320.15 L341.35,320.37 L340.8,320.61 L340.24,320.86 L339.68,321.11 L339.13,321.37 L338.57,321.62 L338.02,321.85 L337.46,322.07 L336.9,322.26 L336.35,322.42 L335.79,322.54 L335.23,322.66 L334.68,322.77 L334.12,322.88 L333.56,322.99 L333.01,323.09 L332.45,323.19 L331.9,323.29 L331.34,323.37 L330.78,323.45 L330.23,323.52 L329.67,323.58 L329.11,323.63 L328.56,323.66 L328,323.69 L327.45,323.7 L326.89,323.69 L326.33,323.67 L325.78,323.62 L325.22,323.55 L324.66,323.46 L324.11,323.36 L323.55,323.25 L323,323.12 L322.44,322.98 L321.88,322.84 L321.33,322.68 L320.77,322.52 L320.21,322.36 L319.66,322.19 L319.1,322.03 L318.55,321.86 L317.99,321.7 L317.43,321.52 L316.88,321.32 L316.32,321.1 L315.76,320.86 L315.21,320.6 L314.65,320.34 L314.09,320.06 L313.54,319.79 L312.98,319.51 L312.43,319.24 L311.87,318.98 L311.31,318.73 L310.76,318.49 L310.2,318.27 L309.64,318.07 L309.09,317.87 L308.53,317.68 L307.98,317.48 L307.42,317.28 L306.86,317.09 L306.31,316.9 L305.75,316.72 L305.19,316.54 L304.64,316.36 L304.08,316.2 L303.53,316.03 L302.97,315.88 L302.41,315.73 L301.86,315.59 L301.3,315.46 L300.74,315.34 L300.19,315.23 L299.63,315.13 L299.08,315.04 L298.52,314.94 L297.96,314.85 L297.41,314.76 L296.85,314.68 L296.29,314.6 L295.74,314.52 L295.18,314.45 L294.63,314.39 L294.07,314.33 L293.51,314.28 L292.96,314.24 L292.4,314.2 Z" fill="#dcdddd" stroke="#7a7a7a" stroke-width="0.9" stroke-linejoin="round"/>
<circle cx="327.3" cy="314.2" r="2.6" fill="#f4c6d2" fill-opacity="0.75"/>
<circle cx="369.2" cy="314.2" r="2.6" fill="#f4c6d2" fill-opacity="0.75"/>
<line x1="348.5" y1="304.3" x2="348.5" y2="324.1" stroke="#1a1a1a" stroke-width="1.2" stroke-dasharray="3.2,2.2"/>
<circle cx="327.3" cy="314.2" r="1.3" fill="#8c1a2a"/>
<circle cx="369.2" cy="314.2" r="1.3" fill="#8c1a2a"/>
<path d="M297.5,339.3 L297.5,339.3 L298.08,339.27 L298.66,339.23 L299.23,339.19 L299.81,339.14 L300.39,339.08 L300.97,339.02 L301.55,338.96 L302.12,338.89 L302.7,338.82 L303.28,338.74 L303.86,338.66 L304.43,338.58 L305.01,338.5 L305.59,338.41 L306.17,338.31 L306.75,338.2 L307.32,338.09 L307.9,337.97 L308.48,337.84 L309.06,337.7 L309.64,337.56 L310.21,337.42 L310.79,337.27 L311.37,337.11 L311.95,336.95 L312.53,336.8 L313.1,336.63 L313.68,336.47 L314.26,336.31 L314.84,336.15 L315.41,335.98 L315.99,335.8 L316.57,335.62 L317.15,335.43 L317.73,335.22 L318.3,335.02 L318.88,334.8 L319.46,334.59 L320.04,334.37 L320.62,334.15 L321.19,333.92 L321.77,333.7 L322.35,333.48 L322.93,333.27 L323.51,333.06 L324.08,332.85 L324.66,332.65 L325.24,332.46 L325.82,332.27 L326.39,332.1 L326.97,331.94 L327.55,331.79 L328.13,331.64 L328.71,331.5 L329.28,331.35 L329.86,331.2 L330.44,331.06 L331.02,330.92 L331.6,330.78 L332.17,330.65 L332.75,330.53 L333.33,330.41 L333.91,330.3 L334.48,330.2 L335.06,330.11 L335.64,330.03 L336.22,329.97 L336.8,329.92 L337.37,329.87 L337.95,329.83 L338.53,329.8 L339.11,329.76 L339.69,329.72 L340.26,329.69 L340.84,329.66 L341.42,329.64 L342,329.61 L342.58,329.59 L343.15,329.57 L343.73,329.56 L344.31,329.55 L344.89,329.55 L345.46,329.56 L346.04,329.58 L346.62,329.61 L347.2,329.66 L347.78,329.72 L348.35,329.79 L348.93,329.86 L349.51,329.94 L350.09,330.03 L350.67,330.11 L351.24,330.2 L351.82,330.28 L352.4,330.35 L352.98,330.44 L353.56,330.53 L354.13,330.62 L354.71,330.72 L355.29,330.83 L355.87,330.93 L356.44,331.04 L357.02,331.16 L357.6,331.27 L358.18,331.39 L358.76,331.51 L359.33,331.63 L359.91,331.75 L360.49,331.88 L361.07,332 L361.65,332.12 L362.22,332.24 L362.8,332.36 L363.38,332.48 L363.96,332.6 L364.54,332.71 L365.11,332.82 L365.69,332.93 L366.27,333.05 L366.85,333.16 L367.42,333.28 L368,333.39 L368.58,333.51 L369.16,333.62 L369.74,333.74 L370.31,333.85 L370.89,333.97 L371.47,334.08 L372.05,334.19 L372.63,334.29 L373.2,334.4 L373.78,334.5 L374.36,334.6 L374.94,334.69 L375.52,334.78 L376.09,334.87 L376.67,334.95 L377.25,335.04 L377.83,335.12 L378.4,335.2 L378.98,335.27 L379.56,335.35 L380.14,335.42 L380.72,335.5 L381.29,335.57 L381.87,335.65 L382.45,335.72 L383.03,335.79 L383.61,335.87 L384.18,335.94 L384.76,336.02 L385.34,336.1 L385.92,336.17 L386.49,336.25 L387.07,336.33 L387.65,336.41 L388.23,336.48 L388.81,336.56 L389.38,336.64 L389.96,336.72 L390.54,336.8 L391.12,336.87 L391.7,336.95 L392.27,337.03 L392.85,337.1 L393.43,337.18 L394.01,337.26 L394.59,337.33 L395.16,337.41 L395.74,337.48 L396.32,337.55 L396.9,337.63 L397.47,337.7 L398.05,337.77 L398.63,337.84 L399.21,337.91 L399.79,337.98 L400.36,338.04 L400.94,338.11 L401.52,338.17 L402.1,338.24 L402.68,338.3 L403.25,338.37 L403.83,338.43 L404.41,338.49 L404.99,338.55 L405.57,338.61 L406.14,338.67 L406.72,338.73 L407.3,338.79 L407.88,338.85 L408.45,338.91 L409.03,338.97 L409.61,339.03 L410.19,339.08 L410.77,339.14 L411.34,339.19 L411.92,339.25 L412.5,339.3 L412.5,339.3 L411.92,339.35 L411.34,339.41 L410.77,339.46 L410.19,339.52 L409.61,339.57 L409.03,339.63 L408.45,339.69 L407.88,339.75 L407.3,339.81 L406.72,339.87 L406.14,339.93 L405.57,339.99 L404.99,340.05 L404.41,340.11 L403.83,340.17 L403.25,340.23 L402.68,340.3 L402.1,340.36 L401.52,340.43 L400.94,340.49 L400.36,340.56 L399.79,340.62 L399.21,340.69 L398.63,340.76 L398.05,340.83 L397.47,340.9 L396.9,340.97 L396.32,341.05 L395.74,341.12 L395.16,341.19 L394.59,341.27 L394.01,341.34 L393.43,341.42 L392.85,341.5 L392.27,341.57 L391.7,341.65 L391.12,341.73 L390.54,341.8 L389.96,341.88 L389.38,341.96 L388.81,342.04 L388.23,342.12 L387.65,342.19 L387.07,342.27 L386.49,342.35 L385.92,342.43 L385.34,342.5 L384.76,342.58 L384.18,342.66 L383.61,342.73 L383.03,342.81 L382.45,342.88 L381.87,342.95 L381.29,343.03 L380.72,343.1 L380.14,343.18 L379.56,343.25 L378.98,343.33 L378.4,343.4 L377.83,343.48 L377.25,343.56 L376.67,343.65 L376.09,343.73 L375.52,343.82 L374.94,343.91 L374.36,344 L373.78,344.1 L373.2,344.2 L372.63,344.31 L372.05,344.41 L371.47,344.52 L370.89,344.63 L370.31,344.75 L369.74,344.86 L369.16,344.98 L368.58,345.09 L368,345.21 L367.42,345.32 L366.85,345.44 L366.27,345.55 L365.69,345.67 L365.11,345.78 L364.54,345.89 L363.96,346 L363.38,346.12 L362.8,346.24 L362.22,346.36 L361.65,346.48 L361.07,346.6 L360.49,346.72 L359.91,346.85 L359.33,346.97 L358.76,347.09 L358.18,347.21 L357.6,347.33 L357.02,347.44 L356.44,347.56 L355.87,347.67 L355.29,347.77 L354.71,347.88 L354.13,347.98 L353.56,348.07 L352.98,348.16 L352.4,348.25 L351.82,348.32 L351.24,348.4 L350.67,348.49 L350.09,348.57 L349.51,348.66 L348.93,348.74 L348.35,348.81 L347.78,348.88 L347.2,348.94 L346.62,348.99 L346.04,349.02 L345.46,349.04 L344.89,349.05 L344.31,349.05 L343.73,349.04 L343.15,349.03 L342.58,349.01 L342,348.99 L341.42,348.96 L340.84,348.94 L340.26,348.91 L339.69,348.88 L339.11,348.84 L338.53,348.8 L337.95,348.77 L337.37,348.73 L336.8,348.68 L336.22,348.63 L335.64,348.57 L335.06,348.49 L334.48,348.4 L333.91,348.3 L333.33,348.19 L332.75,348.07 L332.17,347.95 L331.6,347.82 L331.02,347.68 L330.44,347.54 L329.86,347.4 L329.28,347.25 L328.71,347.1 L328.13,346.96 L327.55,346.81 L326.97,346.66 L326.39,346.5 L325.82,346.33 L325.24,346.14 L324.66,345.95 L324.08,345.75 L323.51,345.54 L322.93,345.33 L322.35,345.12 L321.77,344.9 L321.19,344.68 L320.62,344.45 L320.04,344.23 L319.46,344.01 L318.88,343.8 L318.3,343.58 L317.73,343.38 L317.15,343.17 L316.57,342.98 L315.99,342.8 L315.41,342.62 L314.84,342.45 L314.26,342.29 L313.68,342.13 L313.1,341.97 L312.53,341.8 L311.95,341.65 L311.37,341.49 L310.79,341.33 L310.21,341.18 L309.64,341.04 L309.06,340.9 L308.48,340.76 L307.9,340.63 L307.32,340.51 L306.75,340.4 L306.17,340.29 L305.59,340.19 L305.01,340.1 L304.43,340.02 L303.86,339.94 L303.28,339.86 L302.7,339.78 L302.12,339.71 L301.55,339.64 L300.97,339.58 L300.39,339.52 L299.81,339.46 L299.23,339.41 L298.66,339.37 L298.08,339.33 L297.5,339.3 Z" fill="#dcdddd" stroke="#7a7a7a" stroke-width="0.9" stroke-linejoin="round"/>
<circle cx="332.5" cy="339.3" r="2.6" fill="#f4c6d2" fill-opacity="0.75"/>
<circle cx="343" cy="339.3" r="2.6" fill="#f4c6d2" fill-opacity="0.75"/>
<circle cx="353.75" cy="339.3" r="2.6" fill="#f4c6d2" fill-opacity="0.75"/>
<circle cx="377" cy="339.3" r="2.6" fill="#f4c6d2" fill-opacity="0.75"/>
<line x1="348.75" y1="329.4" x2="348.75" y2="349.2" stroke="#1a1a1a" stroke-width="1.2" stroke-dasharray="3.2,2.2"/>
<circle cx="332.5" cy="339.3" r="1.3" fill="#8c1a2a"/>
<circle cx="343" cy="339.3" r="1.3" fill="#8c1a2a"/>
<circle cx="353.75" cy="339.3" r="1.3" fill="#8c1a2a"/>
<circle cx="377" cy="339.3" r="1.3" fill="#8c1a2a"/>
<path d="M283.8,364.5 L283.8,364.5 L284.24,364.48 L284.67,364.46 L285.11,364.43 L285.54,364.4 L285.98,364.37 L286.41,364.34 L286.85,364.3 L287.29,364.26 L287.72,364.23 L288.16,364.19 L288.59,364.14 L289.03,364.1 L289.46,364.06 L289.9,364.01 L290.34,363.96 L290.77,363.91 L291.21,363.86 L291.64,363.81 L292.08,363.75 L292.51,363.7 L292.95,363.63 L293.38,363.57 L293.82,363.5 L294.26,363.43 L294.69,363.36 L295.13,363.28 L295.56,363.2 L296,363.12 L296.43,363.03 L296.87,362.94 L297.31,362.84 L297.74,362.74 L298.18,362.63 L298.61,362.49 L299.05,362.35 L299.48,362.19 L299.92,362.01 L300.36,361.83 L300.79,361.64 L301.23,361.44 L301.66,361.23 L302.1,361.02 L302.53,360.8 L302.97,360.58 L303.41,360.36 L303.84,360.14 L304.28,359.92 L304.71,359.69 L305.15,359.48 L305.58,359.26 L306.02,359.05 L306.46,358.85 L306.89,358.65 L307.33,358.47 L307.76,358.29 L308.2,358.12 L308.63,357.96 L309.07,357.79 L309.51,357.61 L309.94,357.44 L310.38,357.26 L310.81,357.09 L311.25,356.91 L311.68,356.74 L312.12,356.57 L312.55,356.41 L312.99,356.25 L313.43,356.1 L313.86,355.95 L314.3,355.82 L314.73,355.69 L315.17,355.57 L315.6,355.46 L316.04,355.37 L316.48,355.28 L316.91,355.21 L317.35,355.15 L317.78,355.09 L318.22,355.04 L318.65,354.98 L319.09,354.93 L319.53,354.87 L319.96,354.82 L320.4,354.77 L320.83,354.73 L321.27,354.69 L321.7,354.65 L322.14,354.61 L322.58,354.58 L323.01,354.56 L323.45,354.54 L323.88,354.52 L324.32,354.51 L324.75,354.5 L325.19,354.5 L325.63,354.5 L326.06,354.51 L326.5,354.52 L326.93,354.54 L327.37,354.56 L327.8,354.58 L328.24,354.61 L328.67,354.63 L329.11,354.66 L329.55,354.7 L329.98,354.73 L330.42,354.76 L330.85,354.8 L331.29,354.84 L331.72,354.88 L332.16,354.91 L332.6,354.96 L333.03,355.01 L333.47,355.07 L333.9,355.14 L334.34,355.22 L334.77,355.3 L335.21,355.38 L335.65,355.47 L336.08,355.57 L336.52,355.67 L336.95,355.77 L337.39,355.88 L337.82,355.98 L338.26,356.1 L338.7,356.21 L339.13,356.32 L339.57,356.44 L340,356.56 L340.44,356.68 L340.87,356.82 L341.31,356.97 L341.75,357.12 L342.18,357.29 L342.62,357.46 L343.05,357.64 L343.49,357.82 L343.92,358.01 L344.36,358.2 L344.79,358.39 L345.23,358.59 L345.67,358.78 L346.1,358.98 L346.54,359.17 L346.97,359.37 L347.41,359.55 L347.84,359.74 L348.28,359.92 L348.72,360.1 L349.15,360.26 L349.59,360.42 L350.02,360.58 L350.46,360.72 L350.89,360.86 L351.33,360.99 L351.77,361.13 L352.2,361.26 L352.64,361.39 L353.07,361.52 L353.51,361.65 L353.94,361.78 L354.38,361.9 L354.82,362.02 L355.25,362.14 L355.69,362.25 L356.12,362.37 L356.56,362.47 L356.99,362.58 L357.43,362.68 L357.87,362.78 L358.3,362.88 L358.74,362.97 L359.17,363.05 L359.61,363.14 L360.04,363.22 L360.48,363.31 L360.92,363.39 L361.35,363.46 L361.79,363.54 L362.22,363.61 L362.66,363.68 L363.09,363.75 L363.53,363.81 L363.96,363.87 L364.4,363.93 L364.84,363.98 L365.27,364.03 L365.71,364.08 L366.14,364.13 L366.58,364.18 L367.01,364.22 L367.45,364.26 L367.89,364.3 L368.32,364.34 L368.76,364.38 L369.19,364.41 L369.63,364.45 L370.06,364.47 L370.5,364.5 L370.5,364.5 L370.06,364.53 L369.63,364.55 L369.19,364.59 L368.76,364.62 L368.32,364.66 L367.89,364.7 L367.45,364.74 L367.01,364.78 L366.58,364.82 L366.14,364.87 L365.71,364.92 L365.27,364.97 L364.84,365.02 L364.4,365.07 L363.96,365.13 L363.53,365.19 L363.09,365.25 L362.66,365.32 L362.22,365.39 L361.79,365.46 L361.35,365.54 L360.92,365.61 L360.48,365.69 L360.04,365.78 L359.61,365.86 L359.17,365.95 L358.74,366.03 L358.3,366.12 L357.87,366.22 L357.43,366.32 L356.99,366.42 L356.56,366.53 L356.12,366.63 L355.69,366.75 L355.25,366.86 L354.82,366.98 L354.38,367.1 L353.94,367.22 L353.51,367.35 L353.07,367.48 L352.64,367.61 L352.2,367.74 L351.77,367.87 L351.33,368.01 L350.89,368.14 L350.46,368.28 L350.02,368.42 L349.59,368.58 L349.15,368.74 L348.72,368.9 L348.28,369.08 L347.84,369.26 L347.41,369.45 L346.97,369.63 L346.54,369.83 L346.1,370.02 L345.67,370.22 L345.23,370.41 L344.79,370.61 L344.36,370.8 L343.92,370.99 L343.49,371.18 L343.05,371.36 L342.62,371.54 L342.18,371.71 L341.75,371.88 L341.31,372.03 L340.87,372.18 L340.44,372.32 L340,372.44 L339.57,372.56 L339.13,372.68 L338.7,372.79 L338.26,372.9 L337.82,373.02 L337.39,373.12 L336.95,373.23 L336.52,373.33 L336.08,373.43 L335.65,373.53 L335.21,373.62 L334.77,373.7 L334.34,373.78 L333.9,373.86 L333.47,373.93 L333.03,373.99 L332.6,374.04 L332.16,374.09 L331.72,374.12 L331.29,374.16 L330.85,374.2 L330.42,374.24 L329.98,374.27 L329.55,374.3 L329.11,374.34 L328.67,374.37 L328.24,374.39 L327.8,374.42 L327.37,374.44 L326.93,374.46 L326.5,374.48 L326.06,374.49 L325.63,374.5 L325.19,374.5 L324.75,374.5 L324.32,374.49 L323.88,374.48 L323.45,374.46 L323.01,374.44 L322.58,374.42 L322.14,374.39 L321.7,374.35 L321.27,374.31 L320.83,374.27 L320.4,374.23 L319.96,374.18 L319.53,374.13 L319.09,374.07 L318.65,374.02 L318.22,373.96 L317.78,373.91 L317.35,373.85 L316.91,373.79 L316.48,373.72 L316.04,373.63 L315.6,373.54 L315.17,373.43 L314.73,373.31 L314.3,373.18 L313.86,373.05 L313.43,372.9 L312.99,372.75 L312.55,372.59 L312.12,372.43 L311.68,372.26 L311.25,372.09 L310.81,371.91 L310.38,371.74 L309.94,371.56 L309.51,371.39 L309.07,371.21 L308.63,371.04 L308.2,370.88 L307.76,370.71 L307.33,370.53 L306.89,370.35 L306.46,370.15 L306.02,369.95 L305.58,369.74 L305.15,369.52 L304.71,369.31 L304.28,369.08 L303.84,368.86 L303.41,368.64 L302.97,368.42 L302.53,368.2 L302.1,367.98 L301.66,367.77 L301.23,367.56 L300.79,367.36 L300.36,367.17 L299.92,366.99 L299.48,366.81 L299.05,366.65 L298.61,366.51 L298.18,366.37 L297.74,366.26 L297.31,366.16 L296.87,366.06 L296.43,365.97 L296,365.88 L295.56,365.8 L295.13,365.72 L294.69,365.64 L294.26,365.57 L293.82,365.5 L293.38,365.43 L292.95,365.37 L292.51,365.3 L292.08,365.25 L291.64,365.19 L291.21,365.14 L290.77,365.09 L290.34,365.04 L289.9,364.99 L289.46,364.94 L289.03,364.9 L288.59,364.86 L288.16,364.81 L287.72,364.77 L287.29,364.74 L286.85,364.7 L286.41,364.66 L285.98,364.63 L285.54,364.6 L285.11,364.57 L284.67,364.54 L284.24,364.52 L283.8,364.5 Z" fill="#dcdddd" stroke="#7a7a7a" stroke-width="0.9" stroke-linejoin="round"/>
<circle cx="319.7" cy="364.5" r="2.6" fill="#f4c6d2" fill-opacity="0.75"/>
<circle cx="335.2" cy="364.5" r="2.6" fill="#f4c6d2" fill-opacity="0.75"/>
<line x1="327.5" y1="354.6" x2="327.5" y2="374.4" stroke="#1a1a1a" stroke-width="1.2" stroke-dasharray="3.2,2.2"/>
<circle cx="319.7" cy="364.5" r="1.3" fill="#8c1a2a"/>
<circle cx="335.2" cy="364.5" r="1.3" fill="#8c1a2a"/>
<path d="M260.6,389.5 L260.6,389.5 L261.04,389.48 L261.47,389.45 L261.91,389.43 L262.34,389.4 L262.78,389.37 L263.21,389.34 L263.65,389.31 L264.09,389.27 L264.52,389.23 L264.96,389.2 L265.39,389.16 L265.83,389.12 L266.26,389.08 L266.7,389.03 L267.14,388.99 L267.57,388.94 L268.01,388.9 L268.44,388.85 L268.88,388.8 L269.31,388.76 L269.75,388.7 L270.18,388.65 L270.62,388.6 L271.06,388.54 L271.49,388.48 L271.93,388.41 L272.36,388.35 L272.8,388.28 L273.23,388.21 L273.67,388.13 L274.11,388.06 L274.54,387.97 L274.98,387.89 L275.41,387.8 L275.85,387.7 L276.28,387.59 L276.72,387.47 L277.16,387.34 L277.59,387.2 L278.03,387.05 L278.46,386.89 L278.9,386.72 L279.33,386.55 L279.77,386.37 L280.21,386.19 L280.64,386 L281.08,385.81 L281.51,385.62 L281.95,385.42 L282.38,385.22 L282.82,385.02 L283.26,384.82 L283.69,384.62 L284.13,384.42 L284.56,384.23 L285,384.03 L285.43,383.84 L285.87,383.66 L286.31,383.47 L286.74,383.27 L287.18,383.07 L287.61,382.85 L288.05,382.63 L288.48,382.41 L288.92,382.19 L289.35,381.97 L289.79,381.76 L290.23,381.55 L290.66,381.35 L291.1,381.15 L291.53,380.98 L291.97,380.81 L292.4,380.67 L292.84,380.54 L293.28,380.43 L293.71,380.32 L294.15,380.21 L294.58,380.11 L295.02,380 L295.45,379.91 L295.89,379.82 L296.33,379.73 L296.76,379.66 L297.2,379.6 L297.63,379.55 L298.07,379.52 L298.5,379.5 L298.94,379.5 L299.38,379.51 L299.81,379.54 L300.25,379.57 L300.68,379.61 L301.12,379.66 L301.55,379.72 L301.99,379.78 L302.43,379.85 L302.86,379.92 L303.3,380 L303.73,380.07 L304.17,380.15 L304.6,380.23 L305.04,380.31 L305.47,380.39 L305.91,380.48 L306.35,380.59 L306.78,380.7 L307.22,380.82 L307.65,380.94 L308.09,381.07 L308.52,381.2 L308.96,381.34 L309.4,381.48 L309.83,381.62 L310.27,381.77 L310.7,381.91 L311.14,382.05 L311.57,382.19 L312.01,382.33 L312.45,382.48 L312.88,382.64 L313.32,382.8 L313.75,382.96 L314.19,383.12 L314.62,383.28 L315.06,383.45 L315.5,383.61 L315.93,383.77 L316.37,383.93 L316.8,384.09 L317.24,384.24 L317.67,384.39 L318.11,384.54 L318.55,384.68 L318.98,384.82 L319.42,384.96 L319.85,385.11 L320.29,385.25 L320.72,385.39 L321.16,385.52 L321.59,385.65 L322.03,385.78 L322.47,385.91 L322.9,386.03 L323.34,386.14 L323.77,386.25 L324.21,386.35 L324.64,386.45 L325.08,386.54 L325.52,386.63 L325.95,386.72 L326.39,386.81 L326.82,386.9 L327.26,386.98 L327.69,387.07 L328.13,387.15 L328.57,387.23 L329,387.31 L329.44,387.38 L329.87,387.46 L330.31,387.53 L330.74,387.6 L331.18,387.67 L331.62,387.74 L332.05,387.81 L332.49,387.88 L332.92,387.95 L333.36,388.01 L333.79,388.08 L334.23,388.15 L334.67,388.21 L335.1,388.27 L335.54,388.34 L335.97,388.4 L336.41,388.46 L336.84,388.52 L337.28,388.58 L337.72,388.64 L338.15,388.69 L338.59,388.74 L339.02,388.79 L339.46,388.84 L339.89,388.89 L340.33,388.93 L340.76,388.98 L341.2,389.02 L341.64,389.06 L342.07,389.1 L342.51,389.14 L342.94,389.18 L343.38,389.22 L343.81,389.26 L344.25,389.29 L344.69,389.33 L345.12,389.36 L345.56,389.39 L345.99,389.42 L346.43,389.45 L346.86,389.48 L347.3,389.5 L347.3,389.5 L346.86,389.52 L346.43,389.55 L345.99,389.58 L345.56,389.61 L345.12,389.64 L344.69,389.67 L344.25,389.71 L343.81,389.74 L343.38,389.78 L342.94,389.82 L342.51,389.86 L342.07,389.9 L341.64,389.94 L341.2,389.98 L340.76,390.02 L340.33,390.07 L339.89,390.11 L339.46,390.16 L339.02,390.21 L338.59,390.26 L338.15,390.31 L337.72,390.36 L337.28,390.42 L336.84,390.48 L336.41,390.54 L335.97,390.6 L335.54,390.66 L335.1,390.73 L334.67,390.79 L334.23,390.85 L333.79,390.92 L333.36,390.99 L332.92,391.05 L332.49,391.12 L332.05,391.19 L331.62,391.26 L331.18,391.33 L330.74,391.4 L330.31,391.47 L329.87,391.54 L329.44,391.62 L329,391.69 L328.57,391.77 L328.13,391.85 L327.69,391.93 L327.26,392.02 L326.82,392.1 L326.39,392.19 L325.95,392.28 L325.52,392.37 L325.08,392.46 L324.64,392.55 L324.21,392.65 L323.77,392.75 L323.34,392.86 L322.9,392.97 L322.47,393.09 L322.03,393.22 L321.59,393.35 L321.16,393.48 L320.72,393.61 L320.29,393.75 L319.85,393.89 L319.42,394.04 L318.98,394.18 L318.55,394.32 L318.11,394.46 L317.67,394.61 L317.24,394.76 L316.8,394.91 L316.37,395.07 L315.93,395.23 L315.5,395.39 L315.06,395.55 L314.62,395.72 L314.19,395.88 L313.75,396.04 L313.32,396.2 L312.88,396.36 L312.45,396.52 L312.01,396.67 L311.57,396.81 L311.14,396.95 L310.7,397.09 L310.27,397.23 L309.83,397.38 L309.4,397.52 L308.96,397.66 L308.52,397.8 L308.09,397.93 L307.65,398.06 L307.22,398.18 L306.78,398.3 L306.35,398.41 L305.91,398.52 L305.47,398.61 L305.04,398.69 L304.6,398.77 L304.17,398.85 L303.73,398.93 L303.3,399 L302.86,399.08 L302.43,399.15 L301.99,399.22 L301.55,399.28 L301.12,399.34 L300.68,399.39 L300.25,399.43 L299.81,399.46 L299.38,399.49 L298.94,399.5 L298.5,399.5 L298.07,399.48 L297.63,399.45 L297.2,399.4 L296.76,399.34 L296.33,399.27 L295.89,399.18 L295.45,399.09 L295.02,399 L294.58,398.89 L294.15,398.79 L293.71,398.68 L293.28,398.57 L292.84,398.46 L292.4,398.33 L291.97,398.19 L291.53,398.02 L291.1,397.85 L290.66,397.65 L290.23,397.45 L289.79,397.24 L289.35,397.03 L288.92,396.81 L288.48,396.59 L288.05,396.37 L287.61,396.15 L287.18,395.93 L286.74,395.73 L286.31,395.53 L285.87,395.34 L285.43,395.16 L285,394.97 L284.56,394.77 L284.13,394.58 L283.69,394.38 L283.26,394.18 L282.82,393.98 L282.38,393.78 L281.95,393.58 L281.51,393.38 L281.08,393.19 L280.64,393 L280.21,392.81 L279.77,392.63 L279.33,392.45 L278.9,392.28 L278.46,392.11 L278.03,391.95 L277.59,391.8 L277.16,391.66 L276.72,391.53 L276.28,391.41 L275.85,391.3 L275.41,391.2 L274.98,391.11 L274.54,391.03 L274.11,390.94 L273.67,390.87 L273.23,390.79 L272.8,390.72 L272.36,390.65 L271.93,390.59 L271.49,390.52 L271.06,390.46 L270.62,390.4 L270.18,390.35 L269.75,390.3 L269.31,390.24 L268.88,390.2 L268.44,390.15 L268.01,390.1 L267.57,390.06 L267.14,390.01 L266.7,389.97 L266.26,389.92 L265.83,389.88 L265.39,389.84 L264.96,389.8 L264.52,389.77 L264.09,389.73 L263.65,389.69 L263.21,389.66 L262.78,389.63 L262.34,389.6 L261.91,389.57 L261.47,389.55 L261.04,389.52 L260.6,389.5 Z" fill="#dcdddd" stroke="#7a7a7a" stroke-width="0.9" stroke-linejoin="round"/>
<circle cx="295.5" cy="389.5" r="2.6" fill="#f4c6d2" fill-opacity="0.75"/>
<circle cx="298.2" cy="389.5" r="2.6" fill="#f4c6d2" fill-opacity="0.75"/>
<circle cx="311.8" cy="389.5" r="2.6" fill="#f4c6d2" fill-opacity="0.75"/>
<line x1="299.1" y1="379.6" x2="299.1" y2="399.4" stroke="#1a1a1a" stroke-width="1.2" stroke-dasharray="3.2,2.2"/>
<circle cx="295.5" cy="389.5" r="1.3" fill="#8c1a2a"/>
<circle cx="298.2" cy="389.5" r="1.3" fill="#8c1a2a"/>
<circle cx="311.8" cy="389.5" r="1.3" fill="#8c1a2a"/>
</svg></div></body></html>
